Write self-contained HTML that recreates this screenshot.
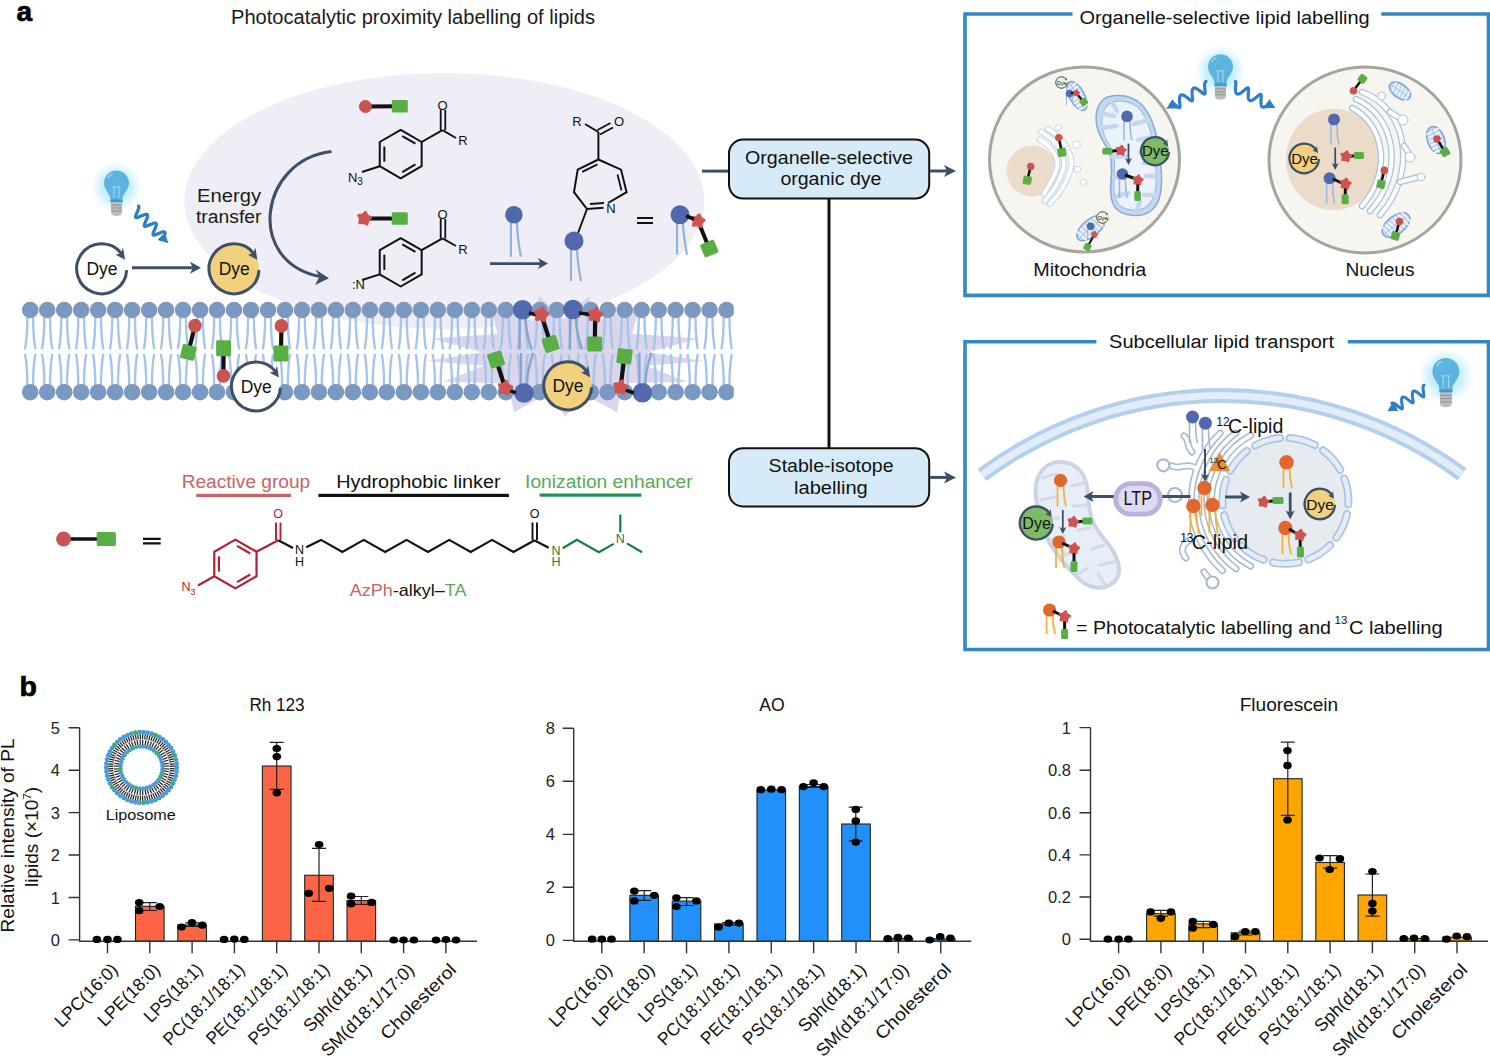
<!DOCTYPE html>
<html><head><meta charset="utf-8"><style>
html,body{margin:0;padding:0;background:#fff;overflow:hidden;}
svg{display:block;font-family:"Liberation Sans", sans-serif;}
</style></head><body>
<svg width="1490" height="1056" viewBox="0 0 1490 1056">
<defs><radialGradient id="glow"><stop offset="0" stop-color="#9FE3F8" stop-opacity="1"/><stop offset="0.55" stop-color="#C5EEFB" stop-opacity="0.9"/><stop offset="1" stop-color="#E6F8FE" stop-opacity="0"/></radialGradient><clipPath id="memclip"><rect x="21" y="290" width="712.8" height="120"/></clipPath></defs>
<rect width="1490" height="1056" fill="#fff"/>
<text x="16.6" y="20.6" font-size="28" fill="#000" text-anchor="start" font-weight="bold" stroke="#000" stroke-width="0.7">a</text>
<text x="231" y="23.5" font-size="19.5" fill="#1a1a1a" text-anchor="start" textLength="364" lengthAdjust="spacingAndGlyphs" >Photocatalytic proximity labelling of lipids</text>
<ellipse cx="444.4" cy="201" rx="260" ry="128" fill="#EFEEF7"/>
<g transform="translate(116.5,183) scale(1.0)"><circle cx="0" cy="4" r="27" fill="url(#glow)"/><path d="M-6,19 L-6,16 C-6,11 -12.5,7 -12.5,0 A12.5,12.5 0 1 1 12.5,0 C12.5,7 6,11 6,16 L6,19 Z" fill="#5DB5DF"/><path d="M-8.5,-5 A9,9 0 0 1 -4,-9.5" stroke="#A9DDF2" stroke-width="1.2" fill="none"/><path d="M-4,4 L4,4 M-2.5,4 L-2.5,15 M2.5,4 L2.5,15" stroke="#B5E2F4" stroke-width="0.8" fill="none"/><rect x="-6" y="16.5" width="12" height="3" fill="#3E9CCB"/><path d="M-5.5,19.5 L5.5,19.5 L5.5,29 Q5.5,33 0,33 Q-5.5,33 -5.5,29 Z" fill="#BDBDBD"/><path d="M-5.5,22 L5.5,22 M-5.5,25 L5.5,25 M-5.5,28 L5.5,28" stroke="#8E8E8E" stroke-width="0.9"/></g>
<path d="M138.54,205.96 L138.7,206.18 L138.81,206.46 L138.86,206.79 L138.86,207.17 L138.81,207.59 L138.72,208.06 L138.58,208.57 L138.41,209.12 L138.2,209.69 L137.97,210.28 L137.72,210.89 L137.45,211.51 L137.18,212.13 L136.92,212.74 L136.66,213.34 L136.41,213.92 L136.19,214.48 L135.99,215 L135.83,215.49 L135.71,215.93 L135.63,216.33 L135.6,216.68 L135.62,216.97 L135.7,217.21 L135.83,217.4 L136.01,217.53 L136.25,217.6 L136.55,217.62 L136.89,217.59 L137.29,217.51 L137.74,217.39 L138.22,217.23 L138.74,217.03 L139.3,216.81 L139.88,216.57 L140.48,216.31 L141.09,216.04 L141.71,215.77 L142.33,215.5 L142.94,215.25 L143.53,215.02 L144.1,214.81 L144.65,214.64 L145.16,214.5 L145.63,214.41 L146.06,214.36 L146.43,214.36 L146.76,214.41 L147.04,214.52 L147.26,214.69 L147.42,214.91 L147.53,215.18 L147.58,215.51 L147.58,215.89 L147.54,216.31 L147.44,216.79 L147.3,217.3 L147.13,217.84 L146.92,218.41 L146.69,219.01 L146.44,219.61 L146.18,220.23 L145.91,220.85 L145.64,221.46 L145.38,222.06 L145.13,222.64 L144.91,223.2 L144.71,223.72 L144.55,224.21 L144.43,224.65 L144.35,225.05 L144.32,225.4 L144.34,225.69 L144.42,225.93 L144.55,226.12 L144.73,226.25 L144.97,226.32 L145.27,226.34 L145.61,226.31 L146.01,226.23 L146.46,226.11 L146.94,225.95 L147.47,225.75 L148.02,225.53 L148.6,225.29 L149.2,225.03 L149.81,224.76 L150.43,224.49 L151.05,224.23 L151.66,223.97 L152.25,223.74 L152.82,223.54 L153.37,223.36 L153.88,223.22 L154.35,223.13 L154.78,223.08 L155.16,223.08 L155.48,223.14 L155.76,223.24 L155.98,223.41 L156.14,223.63 L156.25,223.9 L156.3,224.23 L156.31,224.61 L156.26,225.04 L156.16,225.51 L156.02,226.02 L155.85,226.56 L155.64,227.13 L155.41,227.73 L155.16,228.34 L154.9,228.95 L154.63,229.57 L154.36,230.18 L154.1,230.78 L153.85,231.36 L153.63,231.92 L153.44,232.44 L153.27,232.93 L153.15,233.37 L153.07,233.77 L153.04,234.12 L153.06,234.41 L153.14,234.65 L153.27,234.84 L153.45,234.97 L153.69,235.04 L153.99,235.06 L154.34,235.03 L154.73,234.95 L155.18,234.83 L155.66,234.67 L156.19,234.48 L156.74,234.25 L157.32,234.01 L157.92,233.75 L158.54,233.48 L159.15,233.21 L159.77,232.95 L160.38,232.7 L160.97,232.46 L161.55,232.26 L162.09,232.08 L162.6,231.95 L163.07,231.85 L163.5,231.8 L163.88,231.8 L164.21,231.86 L164.48,231.97 L164.7,232.13 L164.86,232.35 L164.97,232.62 L165.03,232.95 L165.03,233.33 L164.98,233.76 L164.88,234.23 L164.75,234.74 L164.57,235.28 L164.37,235.85 L164.13,236.45" stroke="#2F7EC7" stroke-width="3.3" fill="none" stroke-linecap="round" stroke-linejoin="round"/>
<path d="M164.13,236.45 L161.64,236.14 L168,242.5 L158.14,239.64 L162.34,235.44 Z" fill="#2F7EC7" stroke="#2F7EC7" stroke-width="1"/>
<path d="M168,242.5 L158.14,239.64 L165.14,232.64 Z" fill="#2F7EC7"/>
<circle cx="101.7" cy="268.8" r="25" fill="#fff"/>
<path d="M126.67,270.11 A25,25 0 1 1 121.45,253.48" stroke="#3F4F66" stroke-width="3" fill="none"/>
<path d="M125.04,259.84 L123.11,247.39 L121.13,253.07 L115.65,254.85 Z" fill="#3F4F66"/>
<text x="102" y="275.1" font-size="17.5" fill="#111" text-anchor="middle" >Dye</text>
<line x1="132" y1="267.7" x2="194.4" y2="267.7" stroke="#3F4F66" stroke-width="3"/>
<path d="M201,267.7 L190,273.7 L192.75,267.7 L190,261.7 Z" fill="#3F4F66"/>
<circle cx="234" cy="268.8" r="25" fill="#F2D17C"/>
<path d="M258.97,270.11 A25,25 0 1 1 253.75,253.48" stroke="#3F4F66" stroke-width="3" fill="none"/>
<path d="M257.34,259.84 L255.41,247.39 L253.43,253.07 L247.95,254.85 Z" fill="#3F4F66"/>
<text x="234.3" y="275.1" font-size="17.5" fill="#111" text-anchor="middle" >Dye</text>
<text x="197" y="201.7" font-size="17.5" fill="#1a1a1a" text-anchor="start" textLength="64" lengthAdjust="spacingAndGlyphs" >Energy</text>
<text x="196" y="222.6" font-size="17.5" fill="#1a1a1a" text-anchor="start" textLength="65.5" lengthAdjust="spacingAndGlyphs" >transfer</text>
<path d="M331.5,151.6 C259,160 245,262 320,276.5" stroke="#3F4F66" stroke-width="3" fill="none"/>
<path d="M329,278.3 L315.5,269.5 L319.5,276.8 L315,285 Z" fill="#3F4F66"/>
<line x1="365.4" y1="106.5" x2="399.8" y2="106.3" stroke="#111" stroke-width="4"/>
<rect x="-8" y="-6.25" width="16" height="12.5" rx="1.5" fill="#5AAE46" transform="translate(399.8,106.3) rotate(0)"/>
<circle cx="365.4" cy="106.5" r="6.5" fill="#C9534F"/>
<path d="M400.7,129.9 L421.66,142 L421.66,166.2 L400.7,178.3 L379.74,166.2 L379.74,142 Z" stroke="#111" stroke-width="2" fill="none" stroke-linejoin="round"/>
<line x1="402.29" y1="136.14" x2="415.45" y2="143.74" stroke="#111" stroke-width="2"/>
<line x1="415.45" y1="164.46" x2="402.29" y2="172.06" stroke="#111" stroke-width="2"/>
<line x1="384.35" y1="161.7" x2="384.35" y2="146.5" stroke="#111" stroke-width="2"/>
<path d="M421.66,142 L442.5,130.2" stroke="#111" stroke-width="2" fill="none" stroke-linejoin="miter" />
<path d="M440.7,130 L440.7,110 M445.3,130 L445.3,110" stroke="#111" stroke-width="1.8"/>
<path d="M442.5,130.2 L456,138" stroke="#111" stroke-width="2" fill="none" stroke-linejoin="miter" />
<text x="442.5" y="109.5" font-size="13" fill="#111" text-anchor="middle" >O</text>
<text x="463" y="145" font-size="13" fill="#111" text-anchor="middle" >R</text>
<path d="M379.74,166.2 L362,172" stroke="#111" stroke-width="2" fill="none" stroke-linejoin="miter" />
<text x="348" y="181.5" font-size="13" fill="#111" text-anchor="start" >N</text>
<text x="357.3" y="184.5" font-size="10" fill="#111" text-anchor="start" >3</text>
<line x1="364.3" y1="218.5" x2="399.8" y2="218.5" stroke="#111" stroke-width="4"/>
<rect x="-8" y="-6.25" width="16" height="12.5" rx="1.5" fill="#5AAE46" transform="translate(399.8,218.5) rotate(0)"/>
<polygon points="365.43,212.12 367.19,215.71 370.72,217.6 367.85,220.39 367.14,224.32 363.6,222.46 359.64,223 360.32,219.06 358.58,215.46 362.54,214.89" fill="#CF5350" stroke="#CF5350" stroke-width="2.72" stroke-linejoin="round"/>
<path d="M400.7,238.1 L421.66,250.2 L421.66,274.4 L400.7,286.5 L379.74,274.4 L379.74,250.2 Z" stroke="#111" stroke-width="2" fill="none" stroke-linejoin="round"/>
<line x1="402.29" y1="244.34" x2="415.45" y2="251.94" stroke="#111" stroke-width="2"/>
<line x1="415.45" y1="272.66" x2="402.29" y2="280.26" stroke="#111" stroke-width="2"/>
<line x1="384.35" y1="269.9" x2="384.35" y2="254.7" stroke="#111" stroke-width="2"/>
<path d="M421.66,250.2 L442.5,238.4" stroke="#111" stroke-width="2" fill="none" stroke-linejoin="miter" />
<path d="M440.7,238.4 L440.7,219 M445.3,238.4 L445.3,219" stroke="#111" stroke-width="1.8"/>
<path d="M442.5,238.4 L456,246" stroke="#111" stroke-width="2" fill="none" stroke-linejoin="miter" />
<text x="442.5" y="218.5" font-size="13" fill="#111" text-anchor="middle" >O</text>
<text x="463" y="253.5" font-size="13" fill="#111" text-anchor="middle" >R</text>
<path d="M379.74,274.4 L362,280" stroke="#111" stroke-width="2" fill="none" stroke-linejoin="miter" />
<text x="352" y="289" font-size="13" fill="#111" text-anchor="start" >:N</text>
<line x1="490" y1="263.6" x2="542" y2="263.6" stroke="#3F4F66" stroke-width="2.8"/>
<path d="M548,263.6 L538,269.1 L540.5,263.6 L538,258.1 Z" fill="#3F4F66"/>
<path d="M510.9,219.98 L510.9,256.7 M516.9,219.98 C516.9,235.7 518.9,244.1 520.9,256.7" stroke="#93B3DD" stroke-width="2.2" fill="none"/>
<circle cx="513.9" cy="214.7" r="8.8" fill="#4F68AE"/>
<path d="M598.4,159.5 L621,169.6 L626.6,192.2 L608,203" stroke="#111" stroke-width="2" fill="none" stroke-linejoin="miter" />
<path d="M603.5,207.7 L587,209 L574,192.2 L577.7,169.6 L598.4,159.5" stroke="#111" stroke-width="2" fill="none" stroke-linejoin="miter" />
<path d="M582.2,171.9 L597.5,164.4 M617.5,174.5 L621.5,190.5 M590,204 L604,203" stroke="#111" stroke-width="1.8"/>
<text x="611" y="212.5" font-size="13" fill="#111" text-anchor="middle" >N</text>
<path d="M598.4,159.5 L598.4,132" stroke="#111" stroke-width="2" fill="none" stroke-linejoin="miter" />
<path d="M597.5,130 L610.5,123 M600,134.5 L613,127.5" stroke="#111" stroke-width="1.8"/>
<path d="M598.4,132 L585,124" stroke="#111" stroke-width="2" fill="none" stroke-linejoin="miter" />
<text x="577" y="126" font-size="13" fill="#111" text-anchor="middle" >R</text>
<text x="619" y="125.5" font-size="13" fill="#111" text-anchor="middle" >O</text>
<path d="M587,209 L578,233" stroke="#111" stroke-width="2" fill="none" stroke-linejoin="miter" />
<path d="M571,246.7 L571,281 M577,246.7 C577,261 579,269 581,281" stroke="#93B3DD" stroke-width="2.2" fill="none"/>
<circle cx="574" cy="241" r="9.5" fill="#4F68AE"/>
<path d="M637,218 L653,218 M637,223 L653,223" stroke="#111" stroke-width="2"/>
<path d="M677,220.4 L677,254.7 M683,220.4 C683,234.7 685,242.7 687,254.7" stroke="#93B3DD" stroke-width="2.2" fill="none"/>
<circle cx="680" cy="214.7" r="9.5" fill="#4F68AE"/>
<line x1="698" y1="221" x2="709.3" y2="248.6" stroke="#111" stroke-width="4"/>
<rect x="-7.5" y="-7" width="15" height="14" rx="1.5" fill="#5AAE46" transform="translate(709.3,248.6) rotate(-22.27)"/>
<polygon points="699.13,214.62 700.89,218.21 704.42,220.1 701.55,222.89 700.84,226.82 697.3,224.96 693.34,225.5 694.02,221.56 692.28,217.96 696.24,217.39" fill="#CF5350" stroke="#CF5350" stroke-width="2.72" stroke-linejoin="round"/>
<line x1="686" y1="216" x2="694" y2="219" stroke="#111" stroke-width="3.5"/>
<path d="M432,338.5 L497.68,333.75 L490,305 L533.58,321.5 L539,296 L564.4,318.8 L589,296 L595.87,321.4 L640,305 L632.37,333.78 L699,338.5 L648.56,352.19 L703.5,361 L646.09,365.71 L687.5,382 L622.57,383.09 L617,412.6 L581.28,392.49 L565.5,417 L549.3,392.54 L514,412.6 L507.68,383.19 L443,382 L483.93,365.75 L427,361 L481.45,352.15 Z" fill="#D6D3EA" opacity="0.9"/>
<g clip-path="url(#memclip)">
<path d="M27.4,316 Q27.2,338 25,349.2 M27.4,386 Q27.2,364 25,354 M33,316 Q33.2,338 35.4,349.2 M33,386 Q33.2,364 35.4,354 M44.39,316 Q44.19,338 41.98,349.2 M44.39,386 Q44.19,364 41.98,354 M49.98,316 Q50.19,338 52.39,349.2 M49.98,386 Q50.19,364 52.39,354 M61.37,316 Q61.17,338 58.97,349.2 M61.37,386 Q61.17,364 58.97,354 M66.97,316 Q67.17,338 69.37,349.2 M66.97,386 Q67.17,364 69.37,354 M78.36,316 Q78.16,338 75.95,349.2 M78.36,386 Q78.16,364 75.95,354 M83.95,316 Q84.16,338 86.36,349.2 M83.95,386 Q84.16,364 86.36,354 M95.34,316 Q95.14,338 92.94,349.2 M95.34,386 Q95.14,364 92.94,354 M100.94,316 Q101.14,338 103.34,349.2 M100.94,386 Q101.14,364 103.34,354 M112.33,316 Q112.12,338 109.92,349.2 M112.33,386 Q112.12,364 109.92,354 M117.92,316 Q118.12,338 120.33,349.2 M117.92,386 Q118.12,364 120.33,354 M129.31,316 Q129.11,338 126.91,349.2 M129.31,386 Q129.11,364 126.91,354 M134.91,316 Q135.11,338 137.31,349.2 M134.91,386 Q135.11,364 137.31,354 M146.29,316 Q146.09,338 143.9,349.2 M146.29,386 Q146.09,364 143.9,354 M151.9,316 Q152.09,338 154.29,349.2 M151.9,386 Q152.09,364 154.29,354 M163.28,316 Q163.08,338 160.88,349.2 M163.28,386 Q163.08,364 160.88,354 M168.88,316 Q169.08,338 171.28,349.2 M168.88,386 Q169.08,364 171.28,354 M180.26,316 Q180.06,338 177.87,349.2 M180.26,386 Q180.06,364 177.87,354 M185.87,316 Q186.06,338 188.26,349.2 M185.87,386 Q186.06,364 188.26,354 M197.25,316 Q197.05,338 194.85,349.2 M197.25,386 Q197.05,364 194.85,354 M202.85,316 Q203.05,338 205.25,349.2 M202.85,386 Q203.05,364 205.25,354 M214.23,316 Q214.03,338 211.83,349.2 M214.23,386 Q214.03,364 211.83,354 M219.83,316 Q220.03,338 222.23,349.2 M219.83,386 Q220.03,364 222.23,354 M231.22,316 Q231.02,338 228.82,349.2 M231.22,386 Q231.02,364 228.82,354 M236.82,316 Q237.02,338 239.22,349.2 M236.82,386 Q237.02,364 239.22,354 M248.2,316 Q248,338 245.81,349.2 M248.2,386 Q248,364 245.81,354 M253.81,316 Q254,338 256.2,349.2 M253.81,386 Q254,364 256.2,354 M265.19,316 Q264.99,338 262.79,349.2 M265.19,386 Q264.99,364 262.79,354 M270.79,316 Q270.99,338 273.19,349.2 M270.79,386 Q270.99,364 273.19,354 M282.17,316 Q281.97,338 279.77,349.2 M282.17,386 Q281.97,364 279.77,354 M287.77,316 Q287.97,338 290.17,349.2 M287.77,386 Q287.97,364 290.17,354 M299.16,316 Q298.96,338 296.76,349.2 M299.16,386 Q298.96,364 296.76,354 M304.76,316 Q304.96,338 307.16,349.2 M304.76,386 Q304.96,364 307.16,354 M316.14,316 Q315.94,338 313.75,349.2 M316.14,386 Q315.94,364 313.75,354 M321.75,316 Q321.94,338 324.14,349.2 M321.75,386 Q321.94,364 324.14,354 M333.13,316 Q332.93,338 330.73,349.2 M333.13,386 Q332.93,364 330.73,354 M338.73,316 Q338.93,338 341.13,349.2 M338.73,386 Q338.93,364 341.13,354 M350.11,316 Q349.91,338 347.71,349.2 M350.11,386 Q349.91,364 347.71,354 M355.71,316 Q355.91,338 358.11,349.2 M355.71,386 Q355.91,364 358.11,354 M367.1,316 Q366.9,338 364.7,349.2 M367.1,386 Q366.9,364 364.7,354 M372.7,316 Q372.9,338 375.1,349.2 M372.7,386 Q372.9,364 375.1,354 M384.08,316 Q383.88,338 381.69,349.2 M384.08,386 Q383.88,364 381.69,354 M389.69,316 Q389.88,338 392.08,349.2 M389.69,386 Q389.88,364 392.08,354 M401.07,316 Q400.87,338 398.67,349.2 M401.07,386 Q400.87,364 398.67,354 M406.67,316 Q406.87,338 409.07,349.2 M406.67,386 Q406.87,364 409.07,354 M418.05,316 Q417.85,338 415.65,349.2 M418.05,386 Q417.85,364 415.65,354 M423.65,316 Q423.85,338 426.05,349.2 M423.65,386 Q423.85,364 426.05,354 M435.04,316 Q434.84,338 432.64,349.2 M435.04,386 Q434.84,364 432.64,354 M440.64,316 Q440.84,338 443.04,349.2 M440.64,386 Q440.84,364 443.04,354 M452.02,316 Q451.82,338 449.62,349.2 M452.02,386 Q451.82,364 449.62,354 M457.62,316 Q457.82,338 460.02,349.2 M457.62,386 Q457.82,364 460.02,354 M469.01,316 Q468.81,338 466.61,349.2 M469.01,386 Q468.81,364 466.61,354 M474.61,316 Q474.81,338 477.01,349.2 M474.61,386 Q474.81,364 477.01,354 M485.99,316 Q485.79,338 483.59,349.2 M485.99,386 Q485.79,364 483.59,354 M491.59,316 Q491.79,338 493.99,349.2 M491.59,386 Q491.79,364 493.99,354 M502.98,316 Q502.78,338 500.58,349.2 M502.98,386 Q502.78,364 500.58,354 M508.58,316 Q508.78,338 510.98,349.2 M508.58,386 Q508.78,364 510.98,354 M519.97,316 Q519.76,338 517.56,349.2 M519.97,386 Q519.76,364 517.56,354 M525.56,316 Q525.76,338 527.97,349.2 M525.56,386 Q525.76,364 527.97,354 M536.95,316 Q536.75,338 534.55,349.2 M536.95,386 Q536.75,364 534.55,354 M542.55,316 Q542.75,338 544.95,349.2 M542.55,386 Q542.75,364 544.95,354 M553.94,316 Q553.74,338 551.53,349.2 M553.94,386 Q553.74,364 551.53,354 M559.53,316 Q559.74,338 561.94,349.2 M559.53,386 Q559.74,364 561.94,354 M570.92,316 Q570.72,338 568.52,349.2 M570.92,386 Q570.72,364 568.52,354 M576.52,316 Q576.72,338 578.92,349.2 M576.52,386 Q576.72,364 578.92,354 M587.91,316 Q587.71,338 585.5,349.2 M587.91,386 Q587.71,364 585.5,354 M593.5,316 Q593.71,338 595.91,349.2 M593.5,386 Q593.71,364 595.91,354 M604.89,316 Q604.69,338 602.49,349.2 M604.89,386 Q604.69,364 602.49,354 M610.49,316 Q610.69,338 612.89,349.2 M610.49,386 Q610.69,364 612.89,354 M621.88,316 Q621.68,338 619.48,349.2 M621.88,386 Q621.68,364 619.48,354 M627.48,316 Q627.68,338 629.88,349.2 M627.48,386 Q627.68,364 629.88,354 M638.86,316 Q638.66,338 636.46,349.2 M638.86,386 Q638.66,364 636.46,354 M644.46,316 Q644.66,338 646.86,349.2 M644.46,386 Q644.66,364 646.86,354 M655.85,316 Q655.64,338 653.44,349.2 M655.85,386 Q655.64,364 653.44,354 M661.44,316 Q661.64,338 663.85,349.2 M661.44,386 Q661.64,364 663.85,354 M672.83,316 Q672.63,338 670.43,349.2 M672.83,386 Q672.63,364 670.43,354 M678.43,316 Q678.63,338 680.83,349.2 M678.43,386 Q678.63,364 680.83,354 M689.82,316 Q689.62,338 687.41,349.2 M689.82,386 Q689.62,364 687.41,354 M695.41,316 Q695.62,338 697.82,349.2 M695.41,386 Q695.62,364 697.82,354 M706.8,316 Q706.6,338 704.4,349.2 M706.8,386 Q706.6,364 704.4,354 M712.4,316 Q712.6,338 714.8,349.2 M712.4,386 Q712.6,364 714.8,354 M723.79,316 Q723.59,338 721.38,349.2 M723.79,386 Q723.59,364 721.38,354 M729.38,316 Q729.59,338 731.79,349.2 M729.38,386 Q729.59,364 731.79,354" stroke="#A7C4E9" stroke-width="2.4" fill="none"/>
<g fill="#7A98C0"><circle cx="30.2" cy="310" r="8.3"/><circle cx="30.2" cy="392.2" r="8.3"/><circle cx="47.19" cy="310" r="8.3"/><circle cx="47.19" cy="392.2" r="8.3"/><circle cx="64.17" cy="310" r="8.3"/><circle cx="64.17" cy="392.2" r="8.3"/><circle cx="81.16" cy="310" r="8.3"/><circle cx="81.16" cy="392.2" r="8.3"/><circle cx="98.14" cy="310" r="8.3"/><circle cx="98.14" cy="392.2" r="8.3"/><circle cx="115.12" cy="310" r="8.3"/><circle cx="115.12" cy="392.2" r="8.3"/><circle cx="132.11" cy="310" r="8.3"/><circle cx="132.11" cy="392.2" r="8.3"/><circle cx="149.09" cy="310" r="8.3"/><circle cx="149.09" cy="392.2" r="8.3"/><circle cx="166.08" cy="310" r="8.3"/><circle cx="166.08" cy="392.2" r="8.3"/><circle cx="183.06" cy="310" r="8.3"/><circle cx="183.06" cy="392.2" r="8.3"/><circle cx="200.05" cy="310" r="8.3"/><circle cx="200.05" cy="392.2" r="8.3"/><circle cx="217.03" cy="310" r="8.3"/><circle cx="217.03" cy="392.2" r="8.3"/><circle cx="234.02" cy="310" r="8.3"/><circle cx="234.02" cy="392.2" r="8.3"/><circle cx="251" cy="310" r="8.3"/><circle cx="251" cy="392.2" r="8.3"/><circle cx="267.99" cy="310" r="8.3"/><circle cx="267.99" cy="392.2" r="8.3"/><circle cx="284.97" cy="310" r="8.3"/><circle cx="284.97" cy="392.2" r="8.3"/><circle cx="301.96" cy="310" r="8.3"/><circle cx="301.96" cy="392.2" r="8.3"/><circle cx="318.94" cy="310" r="8.3"/><circle cx="318.94" cy="392.2" r="8.3"/><circle cx="335.93" cy="310" r="8.3"/><circle cx="335.93" cy="392.2" r="8.3"/><circle cx="352.91" cy="310" r="8.3"/><circle cx="352.91" cy="392.2" r="8.3"/><circle cx="369.9" cy="310" r="8.3"/><circle cx="369.9" cy="392.2" r="8.3"/><circle cx="386.88" cy="310" r="8.3"/><circle cx="386.88" cy="392.2" r="8.3"/><circle cx="403.87" cy="310" r="8.3"/><circle cx="403.87" cy="392.2" r="8.3"/><circle cx="420.85" cy="310" r="8.3"/><circle cx="420.85" cy="392.2" r="8.3"/><circle cx="437.84" cy="310" r="8.3"/><circle cx="437.84" cy="392.2" r="8.3"/><circle cx="454.82" cy="310" r="8.3"/><circle cx="454.82" cy="392.2" r="8.3"/><circle cx="471.81" cy="310" r="8.3"/><circle cx="471.81" cy="392.2" r="8.3"/><circle cx="488.79" cy="310" r="8.3"/><circle cx="488.79" cy="392.2" r="8.3"/><circle cx="505.78" cy="310" r="8.3"/><circle cx="505.78" cy="392.2" r="8.3"/><circle cx="522.76" cy="310" r="8.3"/><circle cx="522.76" cy="392.2" r="8.3"/><circle cx="539.75" cy="310" r="8.3"/><circle cx="539.75" cy="392.2" r="8.3"/><circle cx="556.74" cy="310" r="8.3"/><circle cx="556.74" cy="392.2" r="8.3"/><circle cx="573.72" cy="310" r="8.3"/><circle cx="573.72" cy="392.2" r="8.3"/><circle cx="590.71" cy="310" r="8.3"/><circle cx="590.71" cy="392.2" r="8.3"/><circle cx="607.69" cy="310" r="8.3"/><circle cx="607.69" cy="392.2" r="8.3"/><circle cx="624.68" cy="310" r="8.3"/><circle cx="624.68" cy="392.2" r="8.3"/><circle cx="641.66" cy="310" r="8.3"/><circle cx="641.66" cy="392.2" r="8.3"/><circle cx="658.64" cy="310" r="8.3"/><circle cx="658.64" cy="392.2" r="8.3"/><circle cx="675.63" cy="310" r="8.3"/><circle cx="675.63" cy="392.2" r="8.3"/><circle cx="692.62" cy="310" r="8.3"/><circle cx="692.62" cy="392.2" r="8.3"/><circle cx="709.6" cy="310" r="8.3"/><circle cx="709.6" cy="392.2" r="8.3"/><circle cx="726.59" cy="310" r="8.3"/><circle cx="726.59" cy="392.2" r="8.3"/></g>
</g>
<path d="M519.6,317.8 L519.6,349.8 M525.6,317.8 C525.6,331.8 528.6,339.8 531.6,349.8" stroke="#8AA4CC" stroke-width="2.4" fill="none"/>
<circle cx="522.6" cy="309.8" r="9.8" fill="#5169AD"/>
<path d="M570,317.5 L570,349.5 M576,317.5 C576,331.5 579,339.5 582,349.5" stroke="#8AA4CC" stroke-width="2.4" fill="none"/>
<circle cx="573" cy="309.5" r="9.8" fill="#5169AD"/>
<path d="M521,385 L521,353 M527,385 C527,371 530,363 533,353" stroke="#8AA4CC" stroke-width="2.4" fill="none"/>
<circle cx="524" cy="393" r="9.8" fill="#5169AD"/>
<path d="M639.4,384.7 L639.4,352.7 M645.4,384.7 C645.4,370.7 648.4,362.7 651.4,352.7" stroke="#8AA4CC" stroke-width="2.4" fill="none"/>
<circle cx="642.4" cy="392.7" r="9.8" fill="#5169AD"/>
<line x1="195" y1="325.6" x2="188.4" y2="352.3" stroke="#111" stroke-width="4.2"/>
<rect x="-7.25" y="-7.25" width="14.5" height="14.5" rx="1.5" fill="#5AAE46" transform="translate(188.4,352.3) rotate(13.88)"/>
<circle cx="195" cy="325.6" r="6.8" fill="#C9534F"/>
<line x1="223.4" y1="375.9" x2="223.6" y2="348.3" stroke="#111" stroke-width="4.2"/>
<rect x="-7.5" y="-8" width="15" height="16" rx="1.5" fill="#5AAE46" transform="translate(223.6,348.3) rotate(0)"/>
<circle cx="223.4" cy="375.9" r="6.8" fill="#C9534F"/>
<line x1="281.4" y1="325.9" x2="281" y2="353.4" stroke="#111" stroke-width="4.2"/>
<rect x="-7.5" y="-8" width="15" height="16" rx="1.5" fill="#5AAE46" transform="translate(281,353.4) rotate(0)"/>
<circle cx="281.4" cy="325.9" r="6.8" fill="#C9534F"/>
<circle cx="256" cy="386.4" r="24.5" fill="#fff"/>
<path d="M280.47,387.68 A24.5,24.5 0 1 1 275.36,371.38" stroke="#3F4F66" stroke-width="3" fill="none"/>
<path d="M278.87,377.62 L276.99,365.41 L275.04,370.98 L269.66,372.74 Z" fill="#3F4F66"/>
<text x="256.3" y="392.7" font-size="17.5" fill="#111" text-anchor="middle" >Dye</text>
<path d="M529,313 L541,316 M579,313 L595,315 M506,389 L516,393 M620,388 L634,393" stroke="#111" stroke-width="3.5"/>
<line x1="541.4" y1="314.8" x2="550.7" y2="344" stroke="#111" stroke-width="4.2"/>
<rect x="-7.5" y="-7.5" width="15" height="15" rx="1.5" fill="#5AAE46" transform="translate(550.7,344) rotate(-17.67)"/>
<polygon points="542.58,308.1 544.43,311.87 548.14,313.85 545.12,316.78 544.38,320.92 540.67,318.95 536.51,319.53 537.22,315.39 535.39,311.61 539.55,311.01" fill="#CF5350" stroke="#CF5350" stroke-width="2.86" stroke-linejoin="round"/>
<line x1="595.4" y1="314.8" x2="594.7" y2="344" stroke="#111" stroke-width="4.2"/>
<rect x="-7.5" y="-7.5" width="15" height="15" rx="1.5" fill="#5AAE46" transform="translate(594.7,344) rotate(0)"/>
<polygon points="596.58,308.1 598.43,311.87 602.14,313.85 599.12,316.78 598.38,320.92 594.67,318.95 590.51,319.53 591.22,315.39 589.39,311.61 593.55,311.01" fill="#CF5350" stroke="#CF5350" stroke-width="2.86" stroke-linejoin="round"/>
<line x1="505.2" y1="388" x2="496" y2="359.5" stroke="#111" stroke-width="4.2"/>
<rect x="-7.5" y="-7.5" width="15" height="15" rx="1.5" fill="#5AAE46" transform="translate(496,359.5) rotate(-197.89)"/>
<polygon points="506.38,381.3 508.23,385.07 511.94,387.05 508.92,389.98 508.18,394.12 504.47,392.15 500.31,392.73 501.02,388.59 499.19,384.81 503.35,384.21" fill="#CF5350" stroke="#CF5350" stroke-width="2.86" stroke-linejoin="round"/>
<line x1="620.5" y1="387.4" x2="624.5" y2="356.2" stroke="#111" stroke-width="4.2"/>
<rect x="-7.5" y="-7.5" width="15" height="15" rx="1.5" fill="#5AAE46" transform="translate(624.5,356.2) rotate(-172.69)"/>
<polygon points="621.68,380.7 623.53,384.47 627.24,386.45 624.22,389.38 623.48,393.52 619.77,391.55 615.61,392.13 616.32,387.99 614.49,384.21 618.65,383.61" fill="#CF5350" stroke="#CF5350" stroke-width="2.86" stroke-linejoin="round"/>
<circle cx="567.7" cy="385.8" r="24" fill="#F2D17C"/>
<path d="M591.67,387.06 A24,24 0 1 1 586.66,371.09" stroke="#3F4F66" stroke-width="3" fill="none"/>
<path d="M590.11,377.2 L588.28,365.22 L586.35,370.7 L581.06,372.44 Z" fill="#3F4F66"/>
<text x="568" y="392.1" font-size="17.5" fill="#111" text-anchor="middle" >Dye</text>
<line x1="63.6" y1="539" x2="106.3" y2="539" stroke="#111" stroke-width="3.5"/>
<rect x="-9.6" y="-7" width="19.2" height="14" rx="1.5" fill="#5AAE46" transform="translate(106.3,539) rotate(0)"/>
<circle cx="63.6" cy="539" r="7.5" fill="#C9534F"/>
<path d="M143,538.9 L160.7,538.9 M143,543.4 L160.7,543.4" stroke="#111" stroke-width="2.2"/>
<text x="181.7" y="487.9" font-size="18" fill="#C66565" text-anchor="start" textLength="128.5" lengthAdjust="spacingAndGlyphs" >Reactive group</text>
<rect x="196.2" y="493.8" width="94.7" height="3.2" fill="#C66565"/>
<text x="336.2" y="488" font-size="18" fill="#111" text-anchor="start" textLength="164.5" lengthAdjust="spacingAndGlyphs" >Hydrophobic linker</text>
<rect x="318.4" y="493.8" width="190.5" height="3.2" fill="#111"/>
<text x="525.1" y="487.8" font-size="18" fill="#5DA957" text-anchor="start" textLength="167.6" lengthAdjust="spacingAndGlyphs" >Ionization enhancer</text>
<rect x="539.6" y="493.5" width="101.8" height="3.2" fill="#1F9350"/>
<path d="M235.4,539.6 L256.53,551.8 L256.53,576.2 L235.4,588.4 L214.27,576.2 L214.27,551.8 Z" stroke="#B21F36" stroke-width="2.2" fill="none" stroke-linejoin="round"/>
<line x1="237.01" y1="545.9" x2="250.28" y2="553.56" stroke="#B21F36" stroke-width="2.2"/>
<line x1="250.28" y1="574.44" x2="237.01" y2="582.1" stroke="#B21F36" stroke-width="2.2"/>
<line x1="218.92" y1="571.66" x2="218.92" y2="556.34" stroke="#B21F36" stroke-width="2.2"/>
<path d="M256.53,551.8 L278.2,540.3" stroke="#B21F36" stroke-width="2.2" fill="none" stroke-linejoin="miter" />
<path d="M276,540 L276,522.5 M280.5,540 L280.5,522.5" stroke="#B21F36" stroke-width="1.9"/>
<text x="278.2" y="518" font-size="12.5" fill="#B21F36" text-anchor="middle" >O</text>
<path d="M214.27,576.2 L198,585.5" stroke="#B21F36" stroke-width="2.2" fill="none" stroke-linejoin="miter" />
<text x="181.5" y="590.5" font-size="12.5" fill="#B21F36" text-anchor="start" >N</text>
<text x="190.3" y="594.5" font-size="9.5" fill="#B21F36" text-anchor="start" >3</text>
<path d="M278.2,540.3 L293,548" stroke="#111" stroke-width="2.2" fill="none" stroke-linejoin="miter" />
<text x="299.5" y="554.2" font-size="12.5" fill="#111" text-anchor="middle" >N</text>
<text x="299.5" y="565.5" font-size="12.5" fill="#111" text-anchor="middle" >H</text>
<path d="M306.2,547.2 L321,539.9 L342.38,552 L363.76,539.9 L385.14,552 L406.52,539.9 L427.9,552 L449.28,539.9 L470.66,552 L492.04,539.9 L513.42,552 L534.7,540.3" stroke="#111" stroke-width="2.2" fill="none" stroke-linejoin="miter" />
<path d="M532.5,540 L532.5,522.5 M537,540 L537,522.5" stroke="#111" stroke-width="1.9"/>
<text x="534.7" y="518" font-size="12.5" fill="#111" text-anchor="middle" >O</text>
<path d="M534.7,540.5 L548.7,547.8" stroke="#111" stroke-width="2.2" fill="none" stroke-linejoin="miter" />
<text x="556.1" y="554.5" font-size="12.5" fill="#1B7C40" text-anchor="middle" >N</text>
<text x="556.1" y="566" font-size="12.5" fill="#1B7C40" text-anchor="middle" >H</text>
<path d="M562.7,548.3 L576.8,539.7 L598.9,552.3 L613.7,543.9" stroke="#1B7C40" stroke-width="2.2" fill="none" stroke-linejoin="miter" />
<text x="620.3" y="542.5" font-size="12.5" fill="#1B7C40" text-anchor="middle" >N</text>
<path d="M620.3,514.6 L620.3,532.3" stroke="#1B7C40" stroke-width="2.2" fill="none" stroke-linejoin="miter" />
<path d="M627,543.4 L642,552.3" stroke="#1B7C40" stroke-width="2.2" fill="none" stroke-linejoin="miter" />
<text x="349.8" y="596" font-size="17" textLength="116.6" lengthAdjust="spacingAndGlyphs"><tspan fill="#C66565">AzPh</tspan><tspan fill="#111">-alkyl–</tspan><tspan fill="#5DA957">TA</tspan></text>
<line x1="702" y1="171.1" x2="729" y2="171.1" stroke="#3F4F66" stroke-width="3"/>
<line x1="829" y1="199" x2="829" y2="448" stroke="#111" stroke-width="3"/>
<rect x="729" y="139.6" width="200.2" height="59" rx="14" fill="#D6EBF7" stroke="#111" stroke-width="2"/>
<rect x="729" y="448.2" width="200.2" height="58.3" rx="14" fill="#D6EBF7" stroke="#111" stroke-width="2"/>
<text x="829" y="163.6" font-size="17.5" fill="#111" text-anchor="middle" textLength="168" lengthAdjust="spacingAndGlyphs" >Organelle-selective</text>
<text x="830.9" y="184.8" font-size="17.5" fill="#111" text-anchor="middle" textLength="101" lengthAdjust="spacingAndGlyphs" >organic dye</text>
<text x="831.1" y="471.7" font-size="17.5" fill="#111" text-anchor="middle" textLength="125" lengthAdjust="spacingAndGlyphs" >Stable-isotope</text>
<text x="830.9" y="493.5" font-size="17.5" fill="#111" text-anchor="middle" textLength="73.8" lengthAdjust="spacingAndGlyphs" >labelling</text>
<line x1="929.7" y1="171" x2="948.8" y2="171" stroke="#3F4F66" stroke-width="3"/>
<path d="M956,171 L944,177 L947,171 L944,165 Z" fill="#3F4F66"/>
<line x1="929.7" y1="477.4" x2="948.8" y2="477.4" stroke="#3F4F66" stroke-width="3"/>
<path d="M956,477.4 L944,483.4 L947,477.4 L944,471.4 Z" fill="#3F4F66"/>
<path d="M1072.5,14 L965,14 L965,295.4 L1488.5,295.4 L1488.5,14 L1381.3,14" stroke="#3287C8" stroke-width="3.6" fill="none"/>
<path d="M1096.4,341.7 L965,341.7 L965,649.5 L1488.5,649.5 L1488.5,341.7 L1347.8,341.7" stroke="#3287C8" stroke-width="3.6" fill="none"/>
<text x="1079.4" y="23.6" font-size="18" fill="#111" text-anchor="start" textLength="290.3" lengthAdjust="spacingAndGlyphs" >Organelle-selective lipid labelling</text>
<text x="1109.1" y="347.9" font-size="18" fill="#111" text-anchor="start" textLength="225" lengthAdjust="spacingAndGlyphs" >Subcellular lipid transport</text>
<text x="1033.2" y="276.2" font-size="18.5" fill="#111" text-anchor="start" textLength="113" lengthAdjust="spacingAndGlyphs" >Mitochondria</text>
<text x="1345.5" y="276.2" font-size="18.5" fill="#111" text-anchor="start" textLength="69" lengthAdjust="spacingAndGlyphs" >Nucleus</text>
<ellipse cx="1084.5" cy="159.5" rx="95" ry="92.5" fill="#F6F5EF" stroke="#A4A59C" stroke-width="3"/>
<circle cx="1032" cy="171" r="25.5" fill="#EADCC8"/>
<g fill="none" stroke-linecap="round"><path d="M1047.6,128.6 C1068,140 1074,160 1070.5,170 C1066,185 1058,196 1049.6,204.2" stroke="#C9D6E6" stroke-width="6"/><path d="M1047.6,128.6 C1068,140 1074,160 1070.5,170 C1066,185 1058,196 1049.6,204.2" stroke="#fff" stroke-width="3.8"/><path d="M1040.7,131.6 C1060,142 1066,158 1063.5,168 C1060,182 1052,192 1044.6,201.2" stroke="#C9D6E6" stroke-width="6"/><path d="M1040.7,131.6 C1060,142 1066,158 1063.5,168 C1060,182 1052,192 1044.6,201.2" stroke="#fff" stroke-width="3.8"/><path d="M1039.7,139.5 C1054,148 1059,160 1057,168 C1054,178 1049,186 1043.7,194.2" stroke="#C9D6E6" stroke-width="6"/><path d="M1039.7,139.5 C1054,148 1059,160 1057,168 C1054,178 1049,186 1043.7,194.2" stroke="#fff" stroke-width="3.8"/><circle cx="1058.6" cy="127.6" r="3" fill="#fff" stroke="#C9D6E6" stroke-width="1"/><circle cx="1076.5" cy="144.5" r="3.8" fill="#fff" stroke="#C9D6E6" stroke-width="1"/><circle cx="1077.5" cy="169.4" r="3.3" fill="#fff" stroke="#C9D6E6" stroke-width="1"/><circle cx="1083.4" cy="182.3" r="3.3" fill="#fff" stroke="#C9D6E6" stroke-width="1"/><circle cx="1068" cy="148" r="2.5" fill="#fff" stroke="#C9D6E6" stroke-width="1"/></g>
<line x1="1030.7" y1="166.4" x2="1027.3" y2="180.3" stroke="#111" stroke-width="2.5"/>
<rect x="-4.25" y="-4.25" width="8.5" height="8.5" rx="1.5" fill="#5AAE46" transform="translate(1027.3,180.3) rotate(10)"/>
<circle cx="1030.7" cy="166.4" r="3.7" fill="#C9534F"/>
<line x1="1058.8" y1="137.6" x2="1061.8" y2="152.4" stroke="#111" stroke-width="2.5"/>
<rect x="-4.25" y="-4.25" width="8.5" height="8.5" rx="1.5" fill="#5AAE46" transform="translate(1061.8,152.4) rotate(-8)"/>
<circle cx="1058.8" cy="137.6" r="3.7" fill="#C9534F"/>
<path d="M1116.7,95.6 C1128,95 1135,99 1140,103 C1148,110 1152,120 1155,130 C1159,145 1161,160 1161.5,177 C1162,192 1160,203 1152,210 C1146,215 1140,216 1134,215.5 C1125,215 1118,213 1114,206 C1110,198 1110,190 1111,180 C1112,170 1112,160 1109,152 C1105,143 1098,136 1096.5,124 C1095,112 1098,104 1104,99 C1108,96.5 1112,95.8 1116.7,95.6 Z" fill="#C5D7EE" stroke="#86AAD6" stroke-width="1.5"/>
<path d="M1116.7,95.6 C1128,95 1135,99 1140,103 C1148,110 1152,120 1155,130 C1159,145 1161,160 1161.5,177 C1162,192 1160,203 1152,210 C1146,215 1140,216 1134,215.5 C1125,215 1118,213 1114,206 C1110,198 1110,190 1111,180 C1112,170 1112,160 1109,152 C1105,143 1098,136 1096.5,124 C1095,112 1098,104 1104,99 C1108,96.5 1112,95.8 1116.7,95.6 Z" transform="translate(1130,155) scale(0.83,0.91) translate(-1130,-155)" fill="#EAF2FC" stroke="#97B6DE" stroke-width="1.1"/>
<path d="M1100,113 L1114,116 M1102,128 L1116,126 M1111,100 L1117,111 M1148,120 L1134,124 M1153,137 L1138,140 M1112,157 L1126,156 M1159,162 L1144,163 M1114,178 L1126,177 M1159,176 L1146,176 M1117,196 L1128,193 M1157,195 L1144,195 M1136,212 L1140,202 M1152,150 L1140,152" stroke="#C5D7EE" stroke-width="4.6" stroke-linecap="round"/>
<path d="M1124,119.88 L1124,140.4 M1130,119.88 C1130,128.4 1130,133.2 1132,140.4" stroke="#9DB9DF" stroke-width="1.6" fill="none"/>
<circle cx="1127" cy="116.4" r="5.8" fill="#4F68AE"/>
<line x1="1128.5" y1="143.6" x2="1128.5" y2="160.8" stroke="#3F4F66" stroke-width="1.8"/>
<path d="M1128.5,165 L1125,158 L1128.5,159.75 L1132,158 Z" fill="#3F4F66"/>
<line x1="1121" y1="150.5" x2="1107.3" y2="151.3" stroke="#111" stroke-width="3"/>
<rect x="-3.25" y="-5" width="6.5" height="10" rx="1.5" fill="#5AAE46" transform="translate(1107.3,151.3) rotate(90)"/>
<polygon points="1121.84,145.71 1123.17,148.41 1125.81,149.82 1123.66,151.91 1123.13,154.87 1120.48,153.47 1117.5,153.88 1118.02,150.92 1116.71,148.22 1119.68,147.79" fill="#CF5350" stroke="#CF5350" stroke-width="2.04" stroke-linejoin="round"/>
<path d="M1119.4,177.48 L1119.4,198 M1125.4,177.48 C1125.4,186 1125.4,190.8 1127.4,198" stroke="#9DB9DF" stroke-width="1.6" fill="none"/>
<circle cx="1122.4" cy="174" r="5.8" fill="#4F68AE"/>
<line x1="1125" y1="175" x2="1136" y2="179" stroke="#111" stroke-width="3"/>
<line x1="1137.9" y1="180" x2="1137.6" y2="196" stroke="#111" stroke-width="3"/>
<rect x="-3.25" y="-5" width="6.5" height="10" rx="1.5" fill="#5AAE46" transform="translate(1137.6,196) rotate(0)"/>
<polygon points="1138.74,175.21 1140.07,177.91 1142.71,179.32 1140.56,181.41 1140.03,184.37 1137.38,182.97 1134.4,183.38 1134.92,180.42 1133.61,177.72 1136.58,177.29" fill="#CF5350" stroke="#CF5350" stroke-width="2.04" stroke-linejoin="round"/>
<circle cx="1155" cy="151.2" r="14" fill="#7DBB6B"/>
<path d="M1168.98,151.93 A14,14 0 1 1 1166.06,142.62" stroke="#3F4F66" stroke-width="2.2" fill="none"/>
<path d="M1168.07,146.18 L1167.1,139.1 L1165.88,142.39 L1162.7,143.5 Z" fill="#3F4F66"/>
<text x="1155.3" y="156.4" font-size="15" fill="#111" text-anchor="middle" >Dye</text>
<g transform="translate(1077,96) rotate(62)"><ellipse rx="16" ry="7.5" fill="#C3D7F0" stroke="#7CA3D4" stroke-width="1.5"/><path d="M-12,-5 L-11,-0.8 M-10.5,5 L-11,0.8 M-8,-5 L-7,-0.8 M-6.5,5 L-7,0.8 M-4,-5 L-3,-0.8 M-2.5,5 L-3,0.8 M0,-5 L1,-0.8 M1.5,5 L1,0.8 M4,-5 L5,-0.8 M5.5,5 L5,0.8 M8,-5 L9,-0.8 M9.5,5 L9,0.8 M12,-5 L13,-0.8 M13.5,5 L13,0.8" stroke="#F4F8FD" stroke-width="1.7" stroke-linecap="round"/><path d="M-13,0 L13,0" stroke="#9DBBE2" stroke-width="0.8"/></g>
<circle cx="1061.5" cy="82.5" r="5.8" fill="#E8F3DF"/>
<path d="M1067.29,82.8 A5.8,5.8 0 1 1 1066.08,78.95" stroke="#3F4F66" stroke-width="1" fill="none"/>
<path d="M1066.91,80.42 L1066.53,77.47 L1066.01,78.85 L1064.67,79.33 Z" fill="#3F4F66"/>
<text x="1061.8" y="84.5" font-size="6" fill="#111" text-anchor="middle" textLength="9.4" lengthAdjust="spacingAndGlyphs" >Dye</text>
<path d="M1066.5,95.78 L1066.5,105.5 M1072.5,95.78 C1072.5,99.5 1071.5,101.9 1073.5,105.5" stroke="#9DB9DF" stroke-width="1" fill="none"/>
<circle cx="1069.5" cy="93.5" r="3.8" fill="#4F68AE"/>
<line x1="1071" y1="93" x2="1076" y2="93" stroke="#111" stroke-width="2"/>
<line x1="1076.2" y1="93" x2="1083.8" y2="102" stroke="#111" stroke-width="2"/>
<rect x="-3.5" y="-3.5" width="7" height="7" rx="1.5" fill="#5AAE46" transform="translate(1083.8,102) rotate(-40.18)"/>
<polygon points="1076.76,89.81 1077.65,91.6 1079.41,92.55 1077.97,93.94 1077.62,95.91 1075.85,94.98 1073.87,95.25 1074.21,93.28 1073.34,91.48 1075.32,91.19" fill="#CF5350" stroke="#CF5350" stroke-width="1.36" stroke-linejoin="round"/>
<g transform="translate(1091,228) rotate(-40)"><ellipse rx="17" ry="8.5" fill="#C3D7F0" stroke="#7CA3D4" stroke-width="1.5"/><path d="M-13,-6 L-12,-0.8 M-11.5,6 L-12,0.8 M-8.67,-6 L-7.67,-0.8 M-7.17,6 L-7.67,0.8 M-4.33,-6 L-3.33,-0.8 M-2.83,6 L-3.33,0.8 M0,-6 L1,-0.8 M1.5,6 L1,0.8 M4.33,-6 L5.33,-0.8 M5.83,6 L5.33,0.8 M8.67,-6 L9.67,-0.8 M10.17,6 L9.67,0.8 M13,-6 L14,-0.8 M14.5,6 L14,0.8" stroke="#F4F8FD" stroke-width="1.7" stroke-linecap="round"/><path d="M-14,0 L14,0" stroke="#9DBBE2" stroke-width="0.8"/></g>
<circle cx="1102.4" cy="217.5" r="5.8" fill="#E8F3DF"/>
<path d="M1108.19,217.8 A5.8,5.8 0 1 1 1106.98,213.95" stroke="#3F4F66" stroke-width="1" fill="none"/>
<path d="M1107.81,215.42 L1107.43,212.47 L1106.91,213.85 L1105.57,214.33 Z" fill="#3F4F66"/>
<text x="1102.7" y="219.5" font-size="6" fill="#111" text-anchor="middle" textLength="9.4" lengthAdjust="spacingAndGlyphs" >Dye</text>
<path d="M1087.6,228.48 L1087.6,238.2 M1093.6,228.48 C1093.6,232.2 1092.6,234.6 1094.6,238.2" stroke="#9DB9DF" stroke-width="1" fill="none"/>
<circle cx="1090.6" cy="226.2" r="3.8" fill="#4F68AE"/>
<line x1="1094.4" y1="234.5" x2="1087.4" y2="247" stroke="#111" stroke-width="2"/>
<rect x="-3.5" y="-3.5" width="7" height="7" rx="1.5" fill="#5AAE46" transform="translate(1087.4,247) rotate(29.25)"/>
<polygon points="1094.96,231.31 1095.85,233.1 1097.61,234.05 1096.17,235.44 1095.82,237.41 1094.05,236.48 1092.07,236.75 1092.41,234.78 1091.54,232.98 1093.52,232.69" fill="#CF5350" stroke="#CF5350" stroke-width="1.36" stroke-linejoin="round"/>
<ellipse cx="1365" cy="160" rx="96" ry="93" fill="#F6F5EF" stroke="#A4A59C" stroke-width="3"/>
<ellipse cx="1333.6" cy="159.4" rx="47.7" ry="50.7" fill="#EADCC8"/>
<g fill="none" stroke-linecap="round"><path d="M1352,108 C1385,125 1392,172 1362,206" stroke="#A9C2DF" stroke-width="6.5"/><path d="M1352,108 C1385,125 1392,172 1362,206" stroke="#fff" stroke-width="4"/><path d="M1356,99 C1397,117 1404,174 1370,211" stroke="#A9C2DF" stroke-width="6.5"/><path d="M1356,99 C1397,117 1404,174 1370,211" stroke="#fff" stroke-width="4"/><path d="M1362,92 C1409,109 1417,174 1380,215" stroke="#A9C2DF" stroke-width="6.5"/><path d="M1362,92 C1409,109 1417,174 1380,215" stroke="#fff" stroke-width="4"/><path d="M1390,112 L1401,119" stroke="#A9C2DF" stroke-width="6.5"/><path d="M1390,112 L1401,119" stroke="#fff" stroke-width="4"/><path d="M1404,146 L1410,155" stroke="#A9C2DF" stroke-width="6.5"/><path d="M1404,146 L1410,155" stroke="#fff" stroke-width="4"/><path d="M1400,182 L1419,177" stroke="#A9C2DF" stroke-width="6.5"/><path d="M1400,182 L1419,177" stroke="#fff" stroke-width="4"/><circle cx="1381.5" cy="96" r="4" fill="#fff" stroke="#A9C2DF" stroke-width="1"/><circle cx="1403" cy="120" r="5" fill="#fff" stroke="#A9C2DF" stroke-width="1"/><circle cx="1410" cy="157" r="5" fill="#fff" stroke="#A9C2DF" stroke-width="1"/><circle cx="1421" cy="177" r="4" fill="#fff" stroke="#A9C2DF" stroke-width="1"/></g>
<g transform="translate(1400,91) rotate(35)"><ellipse rx="12" ry="7" fill="#C3D7F0" stroke="#7CA3D4" stroke-width="1.5"/><path d="M-8,-4.5 L-7,-0.8 M-6.5,4.5 L-7,0.8 M-4,-4.5 L-3,-0.8 M-2.5,4.5 L-3,0.8 M0,-4.5 L1,-0.8 M1.5,4.5 L1,0.8 M4,-4.5 L5,-0.8 M5.5,4.5 L5,0.8 M8,-4.5 L9,-0.8 M9.5,4.5 L9,0.8" stroke="#F4F8FD" stroke-width="1.7" stroke-linecap="round"/><path d="M-9,0 L9,0" stroke="#9DBBE2" stroke-width="0.8"/></g>
<g transform="translate(1436,140) rotate(70)"><ellipse rx="14" ry="8.5" fill="#C3D7F0" stroke="#7CA3D4" stroke-width="1.5"/><path d="M-10,-6 L-9,-0.8 M-8.5,6 L-9,0.8 M-6,-6 L-5,-0.8 M-4.5,6 L-5,0.8 M-2,-6 L-1,-0.8 M-0.5,6 L-1,0.8 M2,-6 L3,-0.8 M3.5,6 L3,0.8 M6,-6 L7,-0.8 M7.5,6 L7,0.8 M10,-6 L11,-0.8 M11.5,6 L11,0.8" stroke="#F4F8FD" stroke-width="1.7" stroke-linecap="round"/><path d="M-11,0 L11,0" stroke="#9DBBE2" stroke-width="0.8"/></g>
<g transform="translate(1396,225) rotate(-38)"><ellipse rx="16" ry="9" fill="#C3D7F0" stroke="#7CA3D4" stroke-width="1.5"/><path d="M-12,-6.5 L-11,-0.8 M-10.5,6.5 L-11,0.8 M-8,-6.5 L-7,-0.8 M-6.5,6.5 L-7,0.8 M-4,-6.5 L-3,-0.8 M-2.5,6.5 L-3,0.8 M0,-6.5 L1,-0.8 M1.5,6.5 L1,0.8 M4,-6.5 L5,-0.8 M5.5,6.5 L5,0.8 M8,-6.5 L9,-0.8 M9.5,6.5 L9,0.8 M12,-6.5 L13,-0.8 M13.5,6.5 L13,0.8" stroke="#F4F8FD" stroke-width="1.7" stroke-linecap="round"/><path d="M-13,0 L13,0" stroke="#9DBBE2" stroke-width="0.8"/></g>
<line x1="1353.5" y1="90.8" x2="1362.4" y2="78.8" stroke="#111" stroke-width="2.5"/>
<rect x="-4" y="-4" width="8" height="8" rx="1.5" fill="#5AAE46" transform="translate(1362.4,78.8) rotate(-143.44)"/>
<circle cx="1353.5" cy="90.8" r="3.8" fill="#C9534F"/>
<line x1="1384.3" y1="170.4" x2="1381" y2="184.3" stroke="#111" stroke-width="2.5"/>
<rect x="-4.25" y="-4.25" width="8.5" height="8.5" rx="1.5" fill="#5AAE46" transform="translate(1381,184.3) rotate(13.36)"/>
<circle cx="1384.3" cy="170.4" r="3.8" fill="#C9534F"/>
<line x1="1437" y1="139" x2="1445" y2="152" stroke="#111" stroke-width="2.5"/>
<rect x="-4.25" y="-4.25" width="8.5" height="8.5" rx="1.5" fill="#5AAE46" transform="translate(1445,152) rotate(-31.61)"/>
<circle cx="1437" cy="139" r="3.8" fill="#C9534F"/>
<line x1="1399.5" y1="221.5" x2="1395.3" y2="236" stroke="#111" stroke-width="2.5"/>
<rect x="-4.25" y="-4.25" width="8.5" height="8.5" rx="1.5" fill="#5AAE46" transform="translate(1395.3,236) rotate(16.15)"/>
<circle cx="1399.5" cy="221.5" r="3.8" fill="#C9534F"/>
<circle cx="1304.2" cy="158.4" r="14.8" fill="#F2D17C"/>
<path d="M1318.98,159.17 A14.8,14.8 0 1 1 1315.89,149.33" stroke="#3F4F66" stroke-width="2.2" fill="none"/>
<path d="M1318.02,153.1 L1316.96,145.64 L1315.7,149.09 L1312.37,150.23 Z" fill="#3F4F66"/>
<text x="1304.5" y="163.6" font-size="15" fill="#111" text-anchor="middle" >Dye</text>
<path d="M1331,123.2 L1331,144.6 M1337,123.2 C1337,132.1 1337,137.1 1339,144.6" stroke="#9DB9DF" stroke-width="1.6" fill="none"/>
<circle cx="1334" cy="119.6" r="6" fill="#4F68AE"/>
<line x1="1335.2" y1="147.5" x2="1335.2" y2="165.8" stroke="#3F4F66" stroke-width="1.8"/>
<path d="M1335.2,170 L1331.7,163 L1335.2,164.75 L1338.7,163 Z" fill="#3F4F66"/>
<line x1="1346" y1="156.4" x2="1358.9" y2="155.4" stroke="#111" stroke-width="3"/>
<rect x="-3.5" y="-5" width="7" height="10" rx="1.5" fill="#5AAE46" transform="translate(1358.9,155.4) rotate(90)"/>
<polygon points="1346.9,151.29 1348.31,154.17 1351.13,155.68 1348.84,157.91 1348.27,161.06 1345.44,159.57 1342.27,160 1342.82,156.85 1341.42,153.97 1344.59,153.51" fill="#CF5350" stroke="#CF5350" stroke-width="2.18" stroke-linejoin="round"/>
<path d="M1326.6,181.9 L1326.6,203.3 M1332.6,181.9 C1332.6,190.8 1332.6,195.8 1334.6,203.3" stroke="#9DB9DF" stroke-width="1.6" fill="none"/>
<circle cx="1329.6" cy="178.3" r="6" fill="#4F68AE"/>
<line x1="1333" y1="179" x2="1344" y2="184" stroke="#111" stroke-width="3"/>
<line x1="1345.5" y1="183.7" x2="1345.1" y2="199.2" stroke="#111" stroke-width="3"/>
<rect x="-3.5" y="-5" width="7" height="10" rx="1.5" fill="#5AAE46" transform="translate(1345.1,199.2) rotate(0)"/>
<polygon points="1346.4,178.59 1347.81,181.47 1350.63,182.98 1348.34,185.21 1347.77,188.36 1344.94,186.87 1341.77,187.3 1342.32,184.15 1340.92,181.27 1344.09,180.81" fill="#CF5350" stroke="#CF5350" stroke-width="2.18" stroke-linejoin="round"/>
<g transform="translate(1220.5,66.8) scale(1.0)"><circle cx="0" cy="4" r="27" fill="url(#glow)"/><path d="M-6,19 L-6,16 C-6,11 -12.5,7 -12.5,0 A12.5,12.5 0 1 1 12.5,0 C12.5,7 6,11 6,16 L6,19 Z" fill="#5DB5DF"/><path d="M-8.5,-5 A9,9 0 0 1 -4,-9.5" stroke="#A9DDF2" stroke-width="1.2" fill="none"/><path d="M-4,4 L4,4 M-2.5,4 L-2.5,15 M2.5,4 L2.5,15" stroke="#B5E2F4" stroke-width="0.8" fill="none"/><rect x="-6" y="16.5" width="12" height="3" fill="#3E9CCB"/><path d="M-5.5,19.5 L5.5,19.5 L5.5,29 Q5.5,33 0,33 Q-5.5,33 -5.5,29 Z" fill="#BDBDBD"/><path d="M-5.5,22 L5.5,22 M-5.5,25 L5.5,25 M-5.5,28 L5.5,28" stroke="#8E8E8E" stroke-width="0.9"/></g>
<path d="M1206.02,81.43 L1205.75,81.61 L1205.51,81.85 L1205.3,82.14 L1205.12,82.48 L1204.97,82.87 L1204.86,83.3 L1204.76,83.78 L1204.7,84.29 L1204.66,84.83 L1204.64,85.41 L1204.64,86 L1204.66,86.61 L1204.7,87.23 L1204.75,87.85 L1204.8,88.47 L1204.86,89.08 L1204.92,89.68 L1204.98,90.26 L1205.03,90.81 L1205.08,91.33 L1205.11,91.82 L1205.13,92.27 L1205.13,92.67 L1205.11,93.02 L1205.06,93.33 L1205,93.58 L1204.9,93.78 L1204.78,93.92 L1204.63,94.01 L1204.45,94.04 L1204.23,94.02 L1203.99,93.94 L1203.72,93.82 L1203.41,93.65 L1203.08,93.44 L1202.72,93.18 L1202.33,92.89 L1201.92,92.58 L1201.49,92.23 L1201.04,91.87 L1200.58,91.49 L1200.1,91.11 L1199.61,90.73 L1199.11,90.35 L1198.61,89.98 L1198.11,89.63 L1197.62,89.3 L1197.13,89 L1196.65,88.73 L1196.18,88.5 L1195.73,88.31 L1195.3,88.16 L1194.89,88.07 L1194.5,88.02 L1194.14,88.03 L1193.81,88.1 L1193.5,88.22 L1193.23,88.39 L1192.98,88.62 L1192.77,88.9 L1192.59,89.24 L1192.43,89.62 L1192.31,90.05 L1192.21,90.52 L1192.15,91.02 L1192.1,91.57 L1192.08,92.13 L1192.08,92.72 L1192.1,93.33 L1192.13,93.95 L1192.18,94.57 L1192.23,95.19 L1192.29,95.81 L1192.35,96.41 L1192.41,96.99 L1192.46,97.54 L1192.51,98.07 L1192.54,98.56 L1192.56,99.01 L1192.57,99.42 L1192.55,99.79 L1192.51,100.1 L1192.45,100.36 L1192.36,100.56 L1192.24,100.71 L1192.09,100.81 L1191.91,100.85 L1191.71,100.83 L1191.47,100.77 L1191.2,100.65 L1190.9,100.49 L1190.57,100.28 L1190.21,100.03 L1189.83,99.75 L1189.42,99.43 L1189,99.09 L1188.55,98.73 L1188.08,98.36 L1187.61,97.98 L1187.12,97.59 L1186.62,97.21 L1186.12,96.84 L1185.62,96.49 L1185.13,96.15 L1184.64,95.85 L1184.15,95.57 L1183.69,95.34 L1183.23,95.14 L1182.8,94.99 L1182.38,94.89 L1181.99,94.84 L1181.63,94.84 L1181.29,94.9 L1180.98,95.01 L1180.7,95.17 L1180.45,95.4 L1180.24,95.67 L1180.05,96 L1179.89,96.37 L1179.76,96.79 L1179.67,97.26 L1179.59,97.76 L1179.55,98.3 L1179.52,98.86 L1179.52,99.45 L1179.54,100.05 L1179.57,100.67 L1179.61,101.29 L1179.66,101.91 L1179.72,102.53 L1179.78,103.13 L1179.84,103.72 L1179.89,104.28 L1179.94,104.81 L1179.98,105.3 L1180,105.76 L1180.01,106.18 L1179.99,106.55 L1179.96,106.87 L1179.9,107.13 L1179.81,107.35 L1179.7,107.5 L1179.55,107.61 L1179.38,107.66 L1179.18,107.65 L1178.94,107.59 L1178.68,107.48 L1178.38,107.32 L1178.06,107.12 L1177.7,106.88 L1177.33,106.6 L1176.92,106.29 L1176.5,105.95 L1176.05,105.6 L1175.59,105.22 L1175.11,104.84 L1174.63,104.46 L1174.13,104.08 L1173.63,103.7 L1173.13,103.35" stroke="#2F7EC7" stroke-width="3.2" fill="none" stroke-linecap="round" stroke-linejoin="round"/>
<path d="M1173.13,103.35 L1174.91,104.21 L1167,108.5 L1172.55,99.86 L1175.38,105.08 Z" fill="#2F7EC7" stroke="#2F7EC7" stroke-width="1"/>
<path d="M1167,108.5 L1172.55,99.86 L1177.27,108.56 Z" fill="#2F7EC7"/>
<path d="M1235.37,81.37 L1235.51,81.48 L1235.62,81.64 L1235.71,81.86 L1235.78,82.13 L1235.82,82.46 L1235.83,82.84 L1235.84,83.26 L1235.82,83.72 L1235.8,84.22 L1235.76,84.76 L1235.72,85.33 L1235.67,85.91 L1235.62,86.52 L1235.58,87.14 L1235.55,87.76 L1235.52,88.38 L1235.5,89 L1235.51,89.6 L1235.53,90.19 L1235.57,90.75 L1235.63,91.28 L1235.72,91.77 L1235.83,92.23 L1235.97,92.64 L1236.14,93 L1236.34,93.32 L1236.57,93.58 L1236.83,93.79 L1237.11,93.94 L1237.43,94.04 L1237.77,94.08 L1238.14,94.06 L1238.53,93.99 L1238.94,93.87 L1239.38,93.71 L1239.83,93.49 L1240.29,93.24 L1240.77,92.95 L1241.25,92.63 L1241.74,92.28 L1242.23,91.91 L1242.72,91.53 L1243.21,91.13 L1243.69,90.74 L1244.15,90.35 L1244.61,89.96 L1245.04,89.59 L1245.46,89.25 L1245.85,88.93 L1246.23,88.64 L1246.57,88.39 L1246.89,88.18 L1247.18,88.02 L1247.45,87.9 L1247.68,87.83 L1247.88,87.82 L1248.06,87.87 L1248.2,87.97 L1248.32,88.12 L1248.41,88.33 L1248.48,88.6 L1248.52,88.92 L1248.54,89.29 L1248.55,89.7 L1248.54,90.16 L1248.51,90.66 L1248.48,91.19 L1248.43,91.75 L1248.39,92.34 L1248.34,92.94 L1248.3,93.56 L1248.26,94.18 L1248.23,94.8 L1248.22,95.42 L1248.22,96.02 L1248.23,96.61 L1248.27,97.18 L1248.33,97.71 L1248.41,98.21 L1248.52,98.67 L1248.66,99.09 L1248.82,99.46 L1249.02,99.78 L1249.24,100.05 L1249.5,100.27 L1249.78,100.43 L1250.09,100.53 L1250.43,100.58 L1250.8,100.57 L1251.18,100.51 L1251.6,100.4 L1252.03,100.24 L1252.47,100.03 L1252.94,99.79 L1253.41,99.5 L1253.89,99.18 L1254.38,98.84 L1254.87,98.47 L1255.37,98.09 L1255.85,97.7 L1256.33,97.3 L1256.8,96.91 L1257.25,96.52 L1257.69,96.15 L1258.11,95.8 L1258.51,95.48 L1258.89,95.19 L1259.24,94.93 L1259.56,94.71 L1259.86,94.54 L1260.12,94.42 L1260.36,94.35 L1260.57,94.33 L1260.75,94.36 L1260.9,94.46 L1261.02,94.6 L1261.11,94.81 L1261.18,95.07 L1261.23,95.38 L1261.25,95.74 L1261.26,96.15 L1261.25,96.6 L1261.23,97.09 L1261.19,97.62 L1261.15,98.18 L1261.11,98.76 L1261.06,99.36 L1261.02,99.97 L1260.98,100.6 L1260.95,101.22 L1260.93,101.84 L1260.93,102.45 L1260.94,103.04 L1260.97,103.6 L1261.03,104.14 L1261.11,104.65 L1261.22,105.12 L1261.35,105.54 L1261.51,105.92 L1261.7,106.25 L1261.92,106.53 L1262.17,106.75 L1262.45,106.92 L1262.76,107.03 L1263.09,107.08 L1263.45,107.09 L1263.84,107.03 L1264.25,106.93 L1264.67,106.77 L1265.12,106.57 L1265.58,106.33 L1266.05,106.05 L1266.54,105.74 L1267.02,105.4 L1267.52,105.03 L1268.01,104.65 L1268.49,104.26 L1268.97,103.87 L1269.44,103.47 L1269.9,103.08" stroke="#2F7EC7" stroke-width="3.2" fill="none" stroke-linecap="round" stroke-linejoin="round"/>
<path d="M1269.9,103.08 L1266.99,103.4 L1275,107.5 L1264.73,107.81 L1267.44,102.52 Z" fill="#2F7EC7" stroke="#2F7EC7" stroke-width="1"/>
<path d="M1275,107.5 L1264.73,107.81 L1269.24,98.99 Z" fill="#2F7EC7"/>
<path d="M981.92,475.06 A403.5,403.5 0 0 1 1461.94,474.23" stroke="#B4CFEE" stroke-width="15" fill="none"/>
<path d="M981.92,475.06 A403.5,403.5 0 0 1 1461.94,474.23" stroke="#E1EDF9" stroke-width="7" fill="none"/>
<g fill="none" stroke-linecap="round"><path d="M1250.66,566.14 A74,74 0 0 1 1250.66,435.46" stroke="#A9B9D0" stroke-width="7"/><path d="M1236.03,568.76 A84,84 0 0 1 1236.03,432.84" stroke="#A9B9D0" stroke-width="7"/><path d="M1222.5,570.66 A94,94 0 0 1 1220.1,433.18" stroke="#A9B9D0" stroke-width="7"/><path d="M1196,468 C1186,462 1180,470 1172,466" stroke="#A9B9D0" stroke-width="7"/><path d="M1192,452 C1186,446 1190,440 1184,436" stroke="#A9B9D0" stroke-width="7"/><path d="M1190,540 C1182,544 1180,552 1186,558" stroke="#A9B9D0" stroke-width="7"/><path d="M1204,572 C1208,578 1210,580 1212,582" stroke="#A9B9D0" stroke-width="7"/><path d="M1250.66,566.14 A74,74 0 0 1 1250.66,435.46" stroke="#fff" stroke-width="3.8"/><path d="M1236.03,568.76 A84,84 0 0 1 1236.03,432.84" stroke="#fff" stroke-width="3.8"/><path d="M1222.5,570.66 A94,94 0 0 1 1220.1,433.18" stroke="#fff" stroke-width="3.8"/><path d="M1196,468 C1186,462 1180,470 1172,466" stroke="#fff" stroke-width="3.8"/><path d="M1192,452 C1186,446 1190,440 1184,436" stroke="#fff" stroke-width="3.8"/><path d="M1190,540 C1182,544 1180,552 1186,558" stroke="#fff" stroke-width="3.8"/><path d="M1204,572 C1208,578 1210,580 1212,582" stroke="#fff" stroke-width="3.8"/><circle cx="1163.3" cy="465.3" r="6" fill="#fff" stroke="#A9B9D0" stroke-width="2.2"/><circle cx="1175" cy="495" r="7" fill="none" stroke="#A9B9D0" stroke-width="2.2"/><circle cx="1212.5" cy="582.5" r="6" fill="#fff" stroke="#A9B9D0" stroke-width="2.2"/></g>
<circle cx="1285.4" cy="500.8" r="64" fill="#E6EBF0"/>
<path d="M1289.79,437.95 A63,63 0 0 1 1314.71,445.03 M1323.07,450.31 A63,63 0 0 1 1340.21,469.73 M1344.39,478.69 A63,63 0 0 1 1348.3,504.3 M1346.98,514.09 A63,63 0 0 1 1336.43,537.75 M1330.02,545.28 A63,63 0 0 1 1308.35,559.47 M1298.89,562.34 A63,63 0 0 1 1272.99,562.56 M1263.48,559.86 A63,63 0 0 1 1241.56,546.05 M1235.03,538.63 A63,63 0 0 1 1224.06,515.17 M1222.57,505.39 A63,63 0 0 1 1226.03,479.72 M1230.06,470.7 A63,63 0 0 1 1246.85,450.97 M1255.12,445.55 A63,63 0 0 1 1279.91,438.04" stroke="#ADC4DE" stroke-width="8" fill="none" stroke-linecap="round"/>
<path d="M1289.79,437.95 A63,63 0 0 1 1314.71,445.03 M1323.07,450.31 A63,63 0 0 1 1340.21,469.73 M1344.39,478.69 A63,63 0 0 1 1348.3,504.3 M1346.98,514.09 A63,63 0 0 1 1336.43,537.75 M1330.02,545.28 A63,63 0 0 1 1308.35,559.47 M1298.89,562.34 A63,63 0 0 1 1272.99,562.56 M1263.48,559.86 A63,63 0 0 1 1241.56,546.05 M1235.03,538.63 A63,63 0 0 1 1224.06,515.17 M1222.57,505.39 A63,63 0 0 1 1226.03,479.72 M1230.06,470.7 A63,63 0 0 1 1246.85,450.97 M1255.12,445.55 A63,63 0 0 1 1279.91,438.04" stroke="#E3EDF8" stroke-width="4.6" fill="none" stroke-linecap="round"/>
<path d="M1060,462 C1078,462 1087,475 1088,495 C1089,515 1092,525 1105,540 C1118,555 1124,572 1114,582 C1103,592 1088,588 1078,578 C1060,560 1048,545 1042,525 C1036,505 1034,490 1037,480 C1041,468 1050,462 1060,462 Z" fill="#E8EEF7" stroke="#CBD4E4" stroke-width="4"/>
<path d="M1042,478 L1056,474 M1086,482 L1072,486 M1041,500 L1055,497 M1087,505 L1073,506 M1044,520 L1058,518 M1090,528 L1078,530 M1052,540 L1064,536 M1104,545 L1092,549 M1062,556 L1074,552 M1114,562 L1100,565 M1078,574 L1088,568 M1105,584 L1098,574" stroke="#D3DBE8" stroke-width="3" stroke-linecap="round"/>
<path d="M1057.5,484.36 L1057.5,506.4 M1063.5,484.36 C1063.5,493.4 1064,498.6 1066,506.4" stroke="#F2B23A" stroke-width="1.8" fill="none"/>
<circle cx="1060.5" cy="480.4" r="6.6" fill="#E2672B"/>
<line x1="1062.8" y1="510" x2="1062.8" y2="529.8" stroke="#3F4F66" stroke-width="1.8"/>
<path d="M1062.8,534 L1059.3,527 L1062.8,528.75 L1066.3,527 Z" fill="#3F4F66"/>
<line x1="1073.2" y1="522" x2="1087.4" y2="521" stroke="#111" stroke-width="3"/>
<rect x="-3.5" y="-5" width="7" height="10" rx="1.5" fill="#5AAE46" transform="translate(1087.4,521) rotate(90)"/>
<polygon points="1074.1,516.89 1075.51,519.77 1078.33,521.28 1076.04,523.51 1075.47,526.66 1072.64,525.17 1069.47,525.6 1070.02,522.45 1068.62,519.57 1071.79,519.11" fill="#CF5350" stroke="#CF5350" stroke-width="2.18" stroke-linejoin="round"/>
<path d="M1056,545.96 L1056,568 M1062,545.96 C1062,555 1062.5,560.2 1064.5,568" stroke="#F2B23A" stroke-width="1.8" fill="none"/>
<circle cx="1059" cy="542" r="6.6" fill="#E2672B"/>
<line x1="1062" y1="543" x2="1073" y2="548" stroke="#111" stroke-width="3"/>
<line x1="1074" y1="548.5" x2="1074" y2="566.5" stroke="#111" stroke-width="3"/>
<rect x="-3.5" y="-5.5" width="7" height="11" rx="1.5" fill="#5AAE46" transform="translate(1074,566.5) rotate(0)"/>
<polygon points="1074.9,543.39 1076.31,546.27 1079.13,547.78 1076.84,550.01 1076.27,553.16 1073.44,551.67 1070.27,552.1 1070.82,548.95 1069.42,546.07 1072.59,545.61" fill="#CF5350" stroke="#CF5350" stroke-width="2.18" stroke-linejoin="round"/>
<circle cx="1036.3" cy="523" r="16.5" fill="#7DBB6B"/>
<path d="M1052.78,523.86 A16.5,16.5 0 1 1 1049.34,512.89" stroke="#3F4F66" stroke-width="2.4" fill="none"/>
<path d="M1051.7,517.09 L1050.52,508.78 L1049.12,512.62 L1045.42,513.88 Z" fill="#3F4F66"/>
<text x="1036.6" y="528.5" font-size="16" fill="#111" text-anchor="middle" >Dye</text>
<line x1="1114" y1="496.5" x2="1089.6" y2="496.5" stroke="#3F4F66" stroke-width="3"/>
<path d="M1083.6,496.5 L1093.6,491 L1091.1,496.5 L1093.6,502 Z" fill="#3F4F66"/>
<line x1="1162" y1="496.5" x2="1190.6" y2="496.5" stroke="#3F4F66" stroke-width="3"/>
<rect x="1115.7" y="483.6" width="44.5" height="30.6" rx="15.3" fill="#DEDAF3" stroke="#BAB2DD" stroke-width="4.8"/>
<text x="1137.7" y="505" font-size="19.5" fill="#111" text-anchor="middle" textLength="28.5" lengthAdjust="spacingAndGlyphs" >LTP</text>
<path d="M1189.5,420.9 L1189.5,443 M1195.5,420.9 C1195.5,430 1195.5,435.2 1197.5,443" stroke="#9DB6D9" stroke-width="1.6" fill="none"/>
<circle cx="1192.5" cy="417" r="6.5" fill="#5068AE"/>
<path d="M1202.4,427.1 L1202.4,449.2 M1208.4,427.1 C1208.4,436.2 1208.4,441.4 1210.4,449.2" stroke="#9DB6D9" stroke-width="1.6" fill="none"/>
<circle cx="1205.4" cy="423.2" r="6.5" fill="#5068AE"/>
<text x="1216.3" y="426" font-size="12" fill="#111">12</text>
<text x="1228" y="433" font-size="20" fill="#111" text-anchor="start" textLength="55.3" lengthAdjust="spacingAndGlyphs" >C-lipid</text>
<line x1="1205" y1="449" x2="1205" y2="477.2" stroke="#3F4F66" stroke-width="2"/>
<path d="M1205,482 L1201,474 L1205,476 L1209,474 Z" fill="#3F4F66"/>
<path d="M1210.4,470.6 L1229.2,470.6 L1219.8,454 Z" fill="#E8902F" stroke="#E8902F" stroke-width="1.5" stroke-linejoin="round"/>
<text x="1209.3" y="462.5" font-size="8" fill="#111">13</text>
<text x="1217.3" y="469.2" font-size="13" fill="#111">C</text>
<path d="M1201.4,492.32 L1201.4,516 M1207.4,492.32 C1207.4,502 1207.9,507.6 1209.9,516" stroke="#F2B23A" stroke-width="1.8" fill="none"/>
<circle cx="1204.4" cy="488" r="7.2" fill="#E2672B"/>
<path d="M1190.4,510.32 L1190.4,534 M1196.4,510.32 C1196.4,520 1196.9,525.6 1198.9,534" stroke="#F2B23A" stroke-width="1.8" fill="none"/>
<circle cx="1193.4" cy="506" r="7.2" fill="#E2672B"/>
<path d="M1209.4,509.32 L1209.4,533 M1215.4,509.32 C1215.4,519 1215.9,524.6 1217.9,533" stroke="#F2B23A" stroke-width="1.8" fill="none"/>
<circle cx="1212.4" cy="505" r="7.2" fill="#E2672B"/>
<text x="1180.2" y="541.5" font-size="12" fill="#111">13</text>
<text x="1191.7" y="548.75" font-size="20" fill="#111" text-anchor="start" textLength="56.3" lengthAdjust="spacingAndGlyphs" >C-lipid</text>
<line x1="1225" y1="497" x2="1244" y2="497" stroke="#3F4F66" stroke-width="3"/>
<path d="M1250,497 L1240,502.5 L1242.5,497 L1240,491.5 Z" fill="#3F4F66"/>
<line x1="1263.5" y1="501.9" x2="1278" y2="500.4" stroke="#111" stroke-width="3"/>
<rect x="-3.5" y="-5.5" width="7" height="11" rx="1.5" fill="#5AAE46" transform="translate(1278,500.4) rotate(90)"/>
<polygon points="1264.4,496.79 1265.81,499.67 1268.63,501.18 1266.34,503.41 1265.77,506.56 1262.94,505.07 1259.77,505.5 1260.32,502.35 1258.92,499.47 1262.09,499.01" fill="#CF5350" stroke="#CF5350" stroke-width="2.18" stroke-linejoin="round"/>
<line x1="1290.2" y1="492.5" x2="1290.2" y2="514.1" stroke="#3F4F66" stroke-width="2.8"/>
<path d="M1290.2,519.5 L1285.7,510.5 L1290.2,512.75 L1294.7,510.5 Z" fill="#3F4F66"/>
<path d="M1283.5,466.62 L1283.5,488.3 M1289.5,466.62 C1289.5,475.3 1290,480.5 1292,488.3" stroke="#F2B23A" stroke-width="1.8" fill="none"/>
<circle cx="1286.5" cy="462.3" r="7.2" fill="#E2672B"/>
<circle cx="1319.8" cy="504" r="15.2" fill="#F2D17C"/>
<path d="M1334.98,504.8 A15.2,15.2 0 1 1 1331.81,494.68" stroke="#3F4F66" stroke-width="2.4" fill="none"/>
<path d="M1333.99,498.55 L1332.94,490.86 L1331.61,494.43 L1328.16,495.64 Z" fill="#3F4F66"/>
<text x="1320.1" y="509.5" font-size="15.5" fill="#111" text-anchor="middle" >Dye</text>
<path d="M1282.4,532.32 L1282.4,554 M1288.4,532.32 C1288.4,541 1288.9,546.2 1290.9,554" stroke="#F2B23A" stroke-width="1.8" fill="none"/>
<circle cx="1285.4" cy="528" r="7.2" fill="#E2672B"/>
<line x1="1289" y1="529" x2="1299" y2="535" stroke="#111" stroke-width="3"/>
<line x1="1300" y1="535.2" x2="1300.4" y2="551.9" stroke="#111" stroke-width="3"/>
<rect x="-3.5" y="-5.5" width="7" height="11" rx="1.5" fill="#5AAE46" transform="translate(1300.4,551.9) rotate(0)"/>
<polygon points="1300.94,529.88 1302.41,532.87 1305.35,534.45 1302.96,536.77 1302.37,540.05 1299.42,538.5 1296.12,538.95 1296.68,535.67 1295.23,532.66 1298.53,532.19" fill="#CF5350" stroke="#CF5350" stroke-width="2.27" stroke-linejoin="round"/>
<g transform="translate(1445.9,371.6) scale(1.08)"><circle cx="0" cy="4" r="27" fill="url(#glow)"/><path d="M-6,19 L-6,16 C-6,11 -12.5,7 -12.5,0 A12.5,12.5 0 1 1 12.5,0 C12.5,7 6,11 6,16 L6,19 Z" fill="#5DB5DF"/><path d="M-8.5,-5 A9,9 0 0 1 -4,-9.5" stroke="#A9DDF2" stroke-width="1.2" fill="none"/><path d="M-4,4 L4,4 M-2.5,4 L-2.5,15 M2.5,4 L2.5,15" stroke="#B5E2F4" stroke-width="0.8" fill="none"/><rect x="-6" y="16.5" width="12" height="3" fill="#3E9CCB"/><path d="M-5.5,19.5 L5.5,19.5 L5.5,29 Q5.5,33 0,33 Q-5.5,33 -5.5,29 Z" fill="#BDBDBD"/><path d="M-5.5,22 L5.5,22 M-5.5,25 L5.5,25 M-5.5,28 L5.5,28" stroke="#8E8E8E" stroke-width="0.9"/></g>
<path d="M1424.06,385.13 L1423.82,385.31 L1423.61,385.55 L1423.43,385.84 L1423.29,386.19 L1423.18,386.59 L1423.11,387.04 L1423.06,387.53 L1423.04,388.07 L1423.05,388.63 L1423.08,389.22 L1423.13,389.83 L1423.2,390.45 L1423.27,391.08 L1423.36,391.7 L1423.45,392.32 L1423.54,392.92 L1423.63,393.5 L1423.71,394.05 L1423.78,394.56 L1423.83,395.04 L1423.87,395.47 L1423.88,395.85 L1423.87,396.17 L1423.83,396.44 L1423.76,396.65 L1423.66,396.8 L1423.52,396.89 L1423.35,396.92 L1423.15,396.88 L1422.91,396.8 L1422.64,396.65 L1422.33,396.46 L1421.99,396.22 L1421.63,395.94 L1421.23,395.62 L1420.82,395.27 L1420.38,394.9 L1419.92,394.51 L1419.44,394.11 L1418.96,393.71 L1418.47,393.31 L1417.97,392.92 L1417.48,392.56 L1416.99,392.21 L1416.51,391.9 L1416.05,391.62 L1415.6,391.38 L1415.16,391.2 L1414.76,391.06 L1414.38,390.98 L1414.02,390.95 L1413.7,390.99 L1413.41,391.09 L1413.16,391.24 L1412.94,391.46 L1412.75,391.73 L1412.6,392.06 L1412.48,392.45 L1412.39,392.88 L1412.33,393.36 L1412.31,393.88 L1412.31,394.43 L1412.33,395.02 L1412.37,395.62 L1412.43,396.24 L1412.51,396.86 L1412.59,397.49 L1412.68,398.11 L1412.78,398.72 L1412.87,399.31 L1412.95,399.87 L1413.02,400.39 L1413.08,400.88 L1413.12,401.33 L1413.14,401.72 L1413.14,402.06 L1413.11,402.35 L1413.05,402.58 L1412.96,402.75 L1412.83,402.86 L1412.67,402.91 L1412.48,402.9 L1412.25,402.83 L1411.99,402.7 L1411.7,402.53 L1411.37,402.3 L1411.02,402.03 L1410.63,401.73 L1410.22,401.39 L1409.79,401.03 L1409.33,400.64 L1408.86,400.24 L1408.38,399.84 L1407.89,399.44 L1407.4,399.05 L1406.91,398.67 L1406.42,398.32 L1405.93,397.99 L1405.46,397.7 L1405.01,397.45 L1404.57,397.25 L1404.15,397.1 L1403.76,397 L1403.4,396.95 L1403.07,396.97 L1402.77,397.04 L1402.5,397.18 L1402.27,397.38 L1402.07,397.63 L1401.9,397.94 L1401.77,398.31 L1401.68,398.73 L1401.61,399.19 L1401.57,399.7 L1401.57,400.24 L1401.58,400.82 L1401.62,401.41 L1401.67,402.03 L1401.75,402.65 L1401.83,403.28 L1401.92,403.9 L1402.01,404.51 L1402.1,405.11 L1402.18,405.68 L1402.26,406.22 L1402.33,406.72 L1402.37,407.18 L1402.4,407.59 L1402.4,407.95 L1402.38,408.26 L1402.33,408.51 L1402.25,408.7 L1402.14,408.83 L1401.99,408.9 L1401.81,408.9 L1401.6,408.85 L1401.35,408.75 L1401.06,408.59 L1400.75,408.38 L1400.4,408.13 L1400.02,407.83 L1399.62,407.5 L1399.2,407.15 L1398.75,406.77 L1398.28,406.37 L1397.81,405.97 L1397.32,405.57 L1396.83,405.17 L1396.33,404.79 L1395.84,404.43 L1395.35,404.09 L1394.88,403.79 L1394.42,403.53 L1393.97,403.31 L1393.55,403.14 L1393.15,403.02 L1392.78,402.96 L1392.44,402.95 L1392.13,403.01 L1391.85,403.12" stroke="#2F7EC7" stroke-width="3" fill="none" stroke-linecap="round" stroke-linejoin="round"/>
<path d="M1391.85,403.12 L1395.86,406.61 L1388,411 L1393.44,402.29 L1396.34,407.48 Z" fill="#2F7EC7" stroke="#2F7EC7" stroke-width="1"/>
<path d="M1388,411 L1393.44,402.29 L1398.27,410.93 Z" fill="#2F7EC7"/>
<path d="M1046.6,613.96 L1046.6,634 M1052.6,613.96 C1052.6,622 1053.1,626.8 1055.1,634" stroke="#F2B23A" stroke-width="1.8" fill="none"/>
<circle cx="1049.6" cy="610" r="6.6" fill="#E2672B"/>
<line x1="1053" y1="611" x2="1063" y2="616" stroke="#111" stroke-width="3"/>
<line x1="1064.6" y1="616.6" x2="1064.6" y2="634" stroke="#111" stroke-width="3"/>
<rect x="-3.5" y="-5" width="7" height="10" rx="1.5" fill="#5AAE46" transform="translate(1064.6,634) rotate(0)"/>
<polygon points="1065.54,611.28 1067.01,614.27 1069.95,615.85 1067.56,618.17 1066.97,621.45 1064.02,619.9 1060.72,620.35 1061.28,617.07 1059.83,614.06 1063.13,613.59" fill="#CF5350" stroke="#CF5350" stroke-width="2.27" stroke-linejoin="round"/>
<text x="1076" y="634" font-size="18.5" fill="#111" textLength="255" lengthAdjust="spacingAndGlyphs">= Photocatalytic labelling and </text>
<text x="1334.5" y="624" font-size="11.5" fill="#111">13</text>
<text x="1348.9" y="634" font-size="18.5" fill="#111" text-anchor="start" textLength="93.8" lengthAdjust="spacingAndGlyphs" >C labelling</text>
<text x="19.6" y="696.2" font-size="28.5" fill="#000" text-anchor="start" font-weight="bold" stroke="#000" stroke-width="0.7">b</text>
<rect x="135.5" y="906.3" width="28.6" height="35" fill="#FD6446" stroke="#222" stroke-width="1.1"/>
<rect x="177.8" y="925" width="28.6" height="16.3" fill="#FD6446" stroke="#222" stroke-width="1.1"/>
<rect x="262.4" y="766" width="28.6" height="175.3" fill="#FD6446" stroke="#222" stroke-width="1.1"/>
<rect x="304.7" y="875.3" width="28.6" height="66" fill="#FD6446" stroke="#222" stroke-width="1.1"/>
<rect x="347" y="900.6" width="28.6" height="40.7" fill="#FD6446" stroke="#222" stroke-width="1.1"/>
<path d="M79.6,727.7 L79.6,941.3 L477,941.3" stroke="#333" stroke-width="1.4" fill="none"/>
<text x="60" y="945.9" font-size="16.5" fill="#222" text-anchor="end" >0</text>
<text x="60" y="903.5" font-size="16.5" fill="#222" text-anchor="end" >1</text>
<text x="60" y="861" font-size="16.5" fill="#222" text-anchor="end" >2</text>
<text x="60" y="818.6" font-size="16.5" fill="#222" text-anchor="end" >3</text>
<text x="60" y="776.2" font-size="16.5" fill="#222" text-anchor="end" >4</text>
<text x="60" y="733.8" font-size="16.5" fill="#222" text-anchor="end" >5</text>
<path d="M68.6,939.9 L79.6,939.9 M68.6,897.5 L79.6,897.5 M68.6,855 L79.6,855 M68.6,812.6 L79.6,812.6 M68.6,770.2 L79.6,770.2 M68.6,727.8 L79.6,727.8 M107.5,941.3 L107.5,953.3 M149.8,941.3 L149.8,953.3 M192.1,941.3 L192.1,953.3 M234.4,941.3 L234.4,953.3 M276.7,941.3 L276.7,953.3 M319,941.3 L319,953.3 M361.3,941.3 L361.3,953.3 M403.6,941.3 L403.6,953.3 M445.9,941.3 L445.9,953.3" stroke="#333" stroke-width="1.4"/>
<path d="M149.8,902.6 L149.8,910.5 M142.8,902.6 L156.8,902.6 M142.8,910.5 L156.8,910.5" stroke="#222" stroke-width="1.2"/>
<path d="M192.1,922.8 L192.1,926.4 M185.1,922.8 L199.1,922.8 M185.1,926.4 L199.1,926.4" stroke="#222" stroke-width="1.2"/>
<path d="M276.7,742.3 L276.7,789.4 M269.7,742.3 L283.7,742.3 M269.7,789.4 L283.7,789.4" stroke="#222" stroke-width="1.2"/>
<path d="M319,848.4 L319,901.4 M312,848.4 L326,848.4 M312,901.4 L326,901.4" stroke="#222" stroke-width="1.2"/>
<path d="M361.3,896.5 L361.3,904.3 M354.3,896.5 L368.3,896.5 M354.3,904.3 L368.3,904.3" stroke="#222" stroke-width="1.2"/>
<g fill="#000"><ellipse cx="96.9" cy="939.4" rx="4.3" ry="3.6"/><ellipse cx="107.5" cy="939.4" rx="4.3" ry="3.6"/><ellipse cx="117.4" cy="939.4" rx="4.3" ry="3.6"/><ellipse cx="139.2" cy="902.6" rx="4.3" ry="3.6"/><ellipse cx="139.2" cy="910.7" rx="4.3" ry="3.6"/><ellipse cx="159.7" cy="906.5" rx="4.3" ry="3.6"/><ellipse cx="181.5" cy="927" rx="4.3" ry="3.6"/><ellipse cx="192" cy="922.6" rx="4.3" ry="3.6"/><ellipse cx="202.3" cy="925.2" rx="4.3" ry="3.6"/><ellipse cx="224.1" cy="939.4" rx="4.3" ry="3.6"/><ellipse cx="234.3" cy="939.1" rx="4.3" ry="3.6"/><ellipse cx="244.3" cy="939.4" rx="4.3" ry="3.6"/><ellipse cx="276.8" cy="748.5" rx="4.3" ry="3.6"/><ellipse cx="276.8" cy="756.6" rx="4.3" ry="3.6"/><ellipse cx="276.8" cy="792.8" rx="4.3" ry="3.6"/><ellipse cx="319.1" cy="844.5" rx="4.3" ry="3.6"/><ellipse cx="308.8" cy="893.3" rx="4.3" ry="3.6"/><ellipse cx="329.2" cy="888.3" rx="4.3" ry="3.6"/><ellipse cx="351.1" cy="896.2" rx="4.3" ry="3.6"/><ellipse cx="351.1" cy="903.8" rx="4.3" ry="3.6"/><ellipse cx="371.6" cy="902.4" rx="4.3" ry="3.6"/><ellipse cx="393.7" cy="940" rx="4.3" ry="3.6"/><ellipse cx="403.6" cy="940" rx="4.3" ry="3.6"/><ellipse cx="413.9" cy="940" rx="4.3" ry="3.6"/><ellipse cx="436" cy="940" rx="4.3" ry="3.6"/><ellipse cx="445.9" cy="939.5" rx="4.3" ry="3.6"/><ellipse cx="456" cy="940" rx="4.3" ry="3.6"/></g>
<text x="249.4" y="711" font-size="17.5" fill="#111" text-anchor="start" textLength="55.2" lengthAdjust="spacingAndGlyphs" >Rh 123</text>
<text x="0" y="0" font-size="17.8" fill="#111" text-anchor="end" textLength="81.1" lengthAdjust="spacingAndGlyphs" transform="translate(119,970.8) rotate(-45)">LPC(16:0)</text>
<text x="0" y="0" font-size="17.8" fill="#111" text-anchor="end" textLength="80.1" lengthAdjust="spacingAndGlyphs" transform="translate(161.3,970.8) rotate(-45)">LPE(18:0)</text>
<text x="0" y="0" font-size="17.8" fill="#111" text-anchor="end" textLength="74.5" lengthAdjust="spacingAndGlyphs" transform="translate(203.6,970.8) rotate(-45)">LPS(18:1)</text>
<text x="0" y="0" font-size="17.8" fill="#111" text-anchor="end" textLength="106.9" lengthAdjust="spacingAndGlyphs" transform="translate(245.9,970.8) rotate(-45)">PC(18:1/18:1)</text>
<text x="0" y="0" font-size="17.8" fill="#111" text-anchor="end" textLength="106.0" lengthAdjust="spacingAndGlyphs" transform="translate(288.2,970.8) rotate(-45)">PE(18:1/18:1)</text>
<text x="0" y="0" font-size="17.8" fill="#111" text-anchor="end" textLength="106.5" lengthAdjust="spacingAndGlyphs" transform="translate(330.5,970.8) rotate(-45)">PS(18:1/18:1)</text>
<text x="0" y="0" font-size="17.8" fill="#111" text-anchor="end" textLength="88.1" lengthAdjust="spacingAndGlyphs" transform="translate(372.8,970.8) rotate(-45)">Sph(d18:1)</text>
<text x="0" y="0" font-size="17.8" fill="#111" text-anchor="end" textLength="122.7" lengthAdjust="spacingAndGlyphs" transform="translate(415.1,970.8) rotate(-45)">SM(d18:1/17:0)</text>
<text x="0" y="0" font-size="17.8" fill="#111" text-anchor="end" textLength="99.0" lengthAdjust="spacingAndGlyphs" transform="translate(457.4,970.8) rotate(-45)">Cholesterol</text>
<text x="0" y="0" font-size="18" fill="#111" text-anchor="middle" transform="translate(14.2,835.5) rotate(-90)" textLength="194" lengthAdjust="spacingAndGlyphs">Relative intensity of PL</text>
<text x="0" y="0" font-size="18" fill="#111" text-anchor="middle" transform="translate(38,837) rotate(-90)" textLength="100" lengthAdjust="spacingAndGlyphs">lipids (×10<tspan font-size="11" dy="-7">7</tspan><tspan dy="7">)</tspan></text>
<path d="M174.98,766.21 L169.78,766.41 M174.98,768.79 L169.78,768.59 M174.79,771.22 L169.63,770.64 M174.41,773.76 L169.3,772.79 M173.87,776.14 L168.84,774.8 M173.11,778.6 L168.2,776.87 M172.22,780.87 L167.45,778.79 M171.1,783.18 L166.51,780.75 M169.88,785.29 L165.48,782.53 M168.43,787.42 L164.25,784.33 M166.91,789.33 L162.97,785.94 M165.16,791.21 L161.49,787.53 M163.38,792.87 L159.98,788.93 M161.37,794.47 L158.28,790.29 M159.35,795.85 L156.58,791.45 M157.12,797.13 L154.7,792.53 M154.93,798.19 L152.84,793.43 M152.53,799.13 L150.82,794.22 M150.2,799.85 L148.85,794.83 M147.7,800.42 L146.73,795.31 M145.28,800.79 L144.7,795.62 M142.72,800.98 L142.53,795.78 M140.28,800.98 L140.47,795.78 M137.72,800.79 L138.3,795.62 M135.3,800.42 L136.27,795.31 M132.8,799.85 L134.15,794.83 M130.47,799.13 L132.18,794.22 M128.07,798.19 L130.16,793.43 M125.88,797.13 L128.3,792.53 M123.65,795.85 L126.42,791.45 M121.63,794.47 L124.72,790.29 M119.62,792.87 L123.02,788.93 M117.84,791.21 L121.51,787.53 M116.09,789.33 L120.03,785.94 M114.57,787.42 L118.75,784.33 M113.12,785.29 L117.52,782.53 M111.9,783.18 L116.49,780.75 M110.78,780.87 L115.55,778.79 M109.89,778.6 L114.8,776.87 M109.13,776.14 L114.16,774.8 M108.59,773.76 L113.7,772.79 M108.21,771.22 L113.37,770.64 M108.02,768.79 L113.22,768.59 M108.02,766.21 L113.22,766.41 M108.21,763.78 L113.37,764.36 M108.59,761.24 L113.7,762.21 M109.13,758.86 L114.16,760.2 M109.89,756.4 L114.8,758.13 M110.78,754.13 L115.55,756.21 M111.9,751.82 L116.49,754.25 M113.12,749.71 L117.52,752.47 M114.57,747.58 L118.75,750.67 M116.09,745.67 L120.03,749.06 M117.84,743.79 L121.51,747.47 M119.62,742.13 L123.02,746.07 M121.63,740.53 L124.72,744.71 M123.65,739.15 L126.42,743.55 M125.88,737.87 L128.3,742.47 M128.07,736.81 L130.16,741.57 M130.47,735.87 L132.18,740.78 M132.8,735.15 L134.15,740.17 M135.3,734.58 L136.27,739.69 M137.72,734.21 L138.3,739.38 M140.28,734.02 L140.47,739.22 M142.72,734.02 L142.53,739.22 M145.28,734.21 L144.7,739.38 M147.7,734.58 L146.73,739.69 M150.2,735.15 L148.85,740.17 M152.53,735.87 L150.82,740.78 M154.93,736.81 L152.84,741.57 M157.12,737.87 L154.7,742.47 M159.35,739.15 L156.58,743.55 M161.37,740.53 L158.28,744.71 M163.38,742.13 L159.98,746.07 M165.16,743.79 L161.49,747.47 M166.91,745.67 L162.97,749.06 M168.43,747.58 L164.25,750.67 M169.88,749.71 L165.48,752.47 M171.1,751.82 L166.51,754.25 M172.22,754.13 L167.45,756.21 M173.11,756.4 L168.2,758.13 M173.87,758.86 L168.84,760.2 M174.41,761.24 L169.3,762.21 M174.79,763.78 L169.63,764.36 M163.96,768.76 L169.16,769.05 M163.74,770.94 L168.87,771.74 M163.21,773.4 L168.23,774.76 M162.53,775.49 L167.39,777.34 M161.51,777.78 L166.14,780.16 M160.41,779.69 L164.78,782.51 M158.94,781.72 L162.97,785.01 M157.47,783.35 L161.16,787.02 M155.6,785.04 L158.86,789.09 M153.82,786.33 L156.67,790.68 M151.64,787.58 L153.99,792.22 M149.64,788.48 L151.52,793.33 M147.25,789.25 L148.58,794.28 M145.1,789.71 L145.93,794.84 M142.6,789.97 L142.85,795.17 M140.4,789.97 L140.15,795.17 M137.9,789.71 L137.07,794.84 M135.75,789.25 L134.42,794.28 M133.36,788.48 L131.48,793.33 M131.36,787.58 L129.01,792.22 M129.18,786.33 L126.33,790.68 M127.4,785.04 L124.14,789.09 M125.53,783.35 L121.84,787.02 M124.06,781.72 L120.03,785.01 M122.59,779.69 L118.22,782.51 M121.49,777.78 L116.86,780.16 M120.47,775.49 L115.61,777.34 M119.79,773.4 L114.77,774.76 M119.26,770.94 L114.13,771.74 M119.04,768.76 L113.84,769.05 M119.04,766.24 L113.84,765.95 M119.26,764.06 L114.13,763.26 M119.79,761.6 L114.77,760.24 M120.47,759.51 L115.61,757.66 M121.49,757.22 L116.86,754.84 M122.59,755.31 L118.22,752.49 M124.06,753.28 L120.03,749.99 M125.53,751.65 L121.84,747.98 M127.4,749.96 L124.14,745.91 M129.18,748.67 L126.33,744.32 M131.36,747.42 L129.01,742.78 M133.36,746.52 L131.48,741.67 M135.75,745.75 L134.42,740.72 M137.9,745.29 L137.07,740.16 M140.4,745.03 L140.15,739.83 M142.6,745.03 L142.85,739.83 M145.1,745.29 L145.93,740.16 M147.25,745.75 L148.58,740.72 M149.64,746.52 L151.52,741.67 M151.64,747.42 L153.99,742.78 M153.82,748.67 L156.67,744.32 M155.6,749.96 L158.86,745.91 M157.47,751.65 L161.16,747.98 M158.94,753.28 L162.97,749.99 M160.41,755.31 L164.78,752.49 M161.51,757.22 L166.14,754.84 M162.53,759.51 L167.39,757.66 M163.21,761.6 L168.23,760.24 M163.74,764.06 L168.87,763.26 M163.96,766.24 L169.16,765.95" stroke="#231F20" stroke-width="1.2"/>
<circle cx="176.8" cy="767.5" r="2.4" fill="#4A9BD6"/><circle cx="176.56" cy="771.6" r="2.4" fill="#4A9BD6"/><circle cx="175.85" cy="775.64" r="2.4" fill="#4A9BD6"/><circle cx="174.67" cy="779.57" r="2.4" fill="#4A9BD6"/><circle cx="173.05" cy="783.34" r="2.4" fill="#3DB05A"/><circle cx="170.99" cy="786.9" r="2.4" fill="#4A9BD6"/><circle cx="168.54" cy="790.19" r="2.4" fill="#4A9BD6"/><circle cx="165.72" cy="793.18" r="2.4" fill="#4A9BD6"/><circle cx="162.58" cy="795.81" r="2.4" fill="#4A9BD6"/><circle cx="159.15" cy="798.07" r="2.4" fill="#4A9BD6"/><circle cx="155.48" cy="799.91" r="2.4" fill="#4A9BD6"/><circle cx="151.62" cy="801.32" r="2.4" fill="#4A9BD6"/><circle cx="147.63" cy="802.26" r="2.4" fill="#4A9BD6"/><circle cx="143.55" cy="802.74" r="2.4" fill="#3DB05A"/><circle cx="139.45" cy="802.74" r="2.4" fill="#4A9BD6"/><circle cx="135.37" cy="802.26" r="2.4" fill="#4A9BD6"/><circle cx="131.38" cy="801.32" r="2.4" fill="#4A9BD6"/><circle cx="127.52" cy="799.91" r="2.4" fill="#4A9BD6"/><circle cx="123.85" cy="798.07" r="2.4" fill="#4A9BD6"/><circle cx="120.42" cy="795.81" r="2.4" fill="#4A9BD6"/><circle cx="117.28" cy="793.18" r="2.4" fill="#4A9BD6"/><circle cx="114.46" cy="790.19" r="2.4" fill="#4A9BD6"/><circle cx="112.01" cy="786.9" r="2.4" fill="#3DB05A"/><circle cx="109.95" cy="783.34" r="2.4" fill="#4A9BD6"/><circle cx="108.33" cy="779.57" r="2.4" fill="#4A9BD6"/><circle cx="107.15" cy="775.64" r="2.4" fill="#4A9BD6"/><circle cx="106.44" cy="771.6" r="2.4" fill="#4A9BD6"/><circle cx="106.2" cy="767.5" r="2.4" fill="#4A9BD6"/><circle cx="106.44" cy="763.4" r="2.4" fill="#4A9BD6"/><circle cx="107.15" cy="759.36" r="2.4" fill="#4A9BD6"/><circle cx="108.33" cy="755.43" r="2.4" fill="#4A9BD6"/><circle cx="109.95" cy="751.66" r="2.4" fill="#4A9BD6"/><circle cx="112.01" cy="748.1" r="2.4" fill="#4A9BD6"/><circle cx="114.46" cy="744.81" r="2.4" fill="#3DB05A"/><circle cx="117.28" cy="741.82" r="2.4" fill="#4A9BD6"/><circle cx="120.42" cy="739.19" r="2.4" fill="#4A9BD6"/><circle cx="123.85" cy="736.93" r="2.4" fill="#4A9BD6"/><circle cx="127.52" cy="735.09" r="2.4" fill="#4A9BD6"/><circle cx="131.38" cy="733.68" r="2.4" fill="#4A9BD6"/><circle cx="135.37" cy="732.74" r="2.4" fill="#3DB05A"/><circle cx="139.45" cy="732.26" r="2.4" fill="#4A9BD6"/><circle cx="143.55" cy="732.26" r="2.4" fill="#4A9BD6"/><circle cx="147.63" cy="732.74" r="2.4" fill="#4A9BD6"/><circle cx="151.62" cy="733.68" r="2.4" fill="#4A9BD6"/><circle cx="155.48" cy="735.09" r="2.4" fill="#3DB05A"/><circle cx="159.15" cy="736.93" r="2.4" fill="#4A9BD6"/><circle cx="162.58" cy="739.19" r="2.4" fill="#4A9BD6"/><circle cx="165.72" cy="741.82" r="2.4" fill="#4A9BD6"/><circle cx="168.54" cy="744.81" r="2.4" fill="#4A9BD6"/><circle cx="170.99" cy="748.1" r="2.4" fill="#4A9BD6"/><circle cx="173.05" cy="751.66" r="2.4" fill="#4A9BD6"/><circle cx="174.67" cy="755.43" r="2.4" fill="#3DB05A"/><circle cx="175.85" cy="759.36" r="2.4" fill="#4A9BD6"/><circle cx="176.56" cy="763.4" r="2.4" fill="#4A9BD6"/><circle cx="162.38" cy="769.7" r="2.2" fill="#4A9BD6"/><circle cx="161.69" cy="773.29" r="2.2" fill="#4A9BD6"/><circle cx="160.37" cy="776.71" r="2.2" fill="#3DB05A"/><circle cx="158.49" cy="779.84" r="2.2" fill="#4A9BD6"/><circle cx="156.09" cy="782.61" r="2.2" fill="#4A9BD6"/><circle cx="153.24" cy="784.91" r="2.2" fill="#4A9BD6"/><circle cx="150.04" cy="786.68" r="2.2" fill="#4A9BD6"/><circle cx="146.58" cy="787.88" r="2.2" fill="#4A9BD6"/><circle cx="142.96" cy="788.45" r="2.2" fill="#4A9BD6"/><circle cx="139.3" cy="788.38" r="2.2" fill="#4A9BD6"/><circle cx="135.71" cy="787.69" r="2.2" fill="#3DB05A"/><circle cx="132.29" cy="786.37" r="2.2" fill="#4A9BD6"/><circle cx="129.16" cy="784.49" r="2.2" fill="#4A9BD6"/><circle cx="126.39" cy="782.09" r="2.2" fill="#4A9BD6"/><circle cx="124.09" cy="779.24" r="2.2" fill="#4A9BD6"/><circle cx="122.32" cy="776.04" r="2.2" fill="#4A9BD6"/><circle cx="121.12" cy="772.58" r="2.2" fill="#4A9BD6"/><circle cx="120.55" cy="768.96" r="2.2" fill="#3DB05A"/><circle cx="120.62" cy="765.3" r="2.2" fill="#4A9BD6"/><circle cx="121.31" cy="761.71" r="2.2" fill="#4A9BD6"/><circle cx="122.63" cy="758.29" r="2.2" fill="#4A9BD6"/><circle cx="124.51" cy="755.16" r="2.2" fill="#4A9BD6"/><circle cx="126.91" cy="752.39" r="2.2" fill="#4A9BD6"/><circle cx="129.76" cy="750.09" r="2.2" fill="#4A9BD6"/><circle cx="132.96" cy="748.32" r="2.2" fill="#3DB05A"/><circle cx="136.42" cy="747.12" r="2.2" fill="#4A9BD6"/><circle cx="140.04" cy="746.55" r="2.2" fill="#4A9BD6"/><circle cx="143.7" cy="746.62" r="2.2" fill="#4A9BD6"/><circle cx="147.29" cy="747.31" r="2.2" fill="#4A9BD6"/><circle cx="150.71" cy="748.63" r="2.2" fill="#4A9BD6"/><circle cx="153.84" cy="750.51" r="2.2" fill="#4A9BD6"/><circle cx="156.61" cy="752.91" r="2.2" fill="#3DB05A"/><circle cx="158.91" cy="755.76" r="2.2" fill="#4A9BD6"/><circle cx="160.68" cy="758.96" r="2.2" fill="#4A9BD6"/><circle cx="161.88" cy="762.42" r="2.2" fill="#4A9BD6"/><circle cx="162.45" cy="766.04" r="2.2" fill="#4A9BD6"/>
<text x="105.8" y="819.7" font-size="15.5" fill="#111" text-anchor="start" textLength="70" lengthAdjust="spacingAndGlyphs" >Liposome</text>
<rect x="629.87" y="895.3" width="28.6" height="46" fill="#2290FB" stroke="#222" stroke-width="1.1"/>
<rect x="672.24" y="901.1" width="28.6" height="40.2" fill="#2290FB" stroke="#222" stroke-width="1.1"/>
<rect x="714.61" y="923.9" width="28.6" height="17.4" fill="#2290FB" stroke="#222" stroke-width="1.1"/>
<rect x="756.98" y="790" width="28.6" height="151.3" fill="#2290FB" stroke="#222" stroke-width="1.1"/>
<rect x="799.35" y="786.6" width="28.6" height="154.7" fill="#2290FB" stroke="#222" stroke-width="1.1"/>
<rect x="841.72" y="824" width="28.6" height="117.3" fill="#2290FB" stroke="#222" stroke-width="1.1"/>
<rect x="884.09" y="938.5" width="28.6" height="2.8" fill="#2290FB" stroke="#222" stroke-width="1.1"/>
<rect x="926.46" y="938.8" width="28.6" height="2.5" fill="#2290FB" stroke="#222" stroke-width="1.1"/>
<path d="M573.7,728.3 L573.7,941.3 L971.3,941.3" stroke="#333" stroke-width="1.4" fill="none"/>
<text x="555" y="946.4" font-size="16.5" fill="#222" text-anchor="end" >0</text>
<text x="555" y="893.3" font-size="16.5" fill="#222" text-anchor="end" >2</text>
<text x="555" y="840.4" font-size="16.5" fill="#222" text-anchor="end" >4</text>
<text x="555" y="787.3" font-size="16.5" fill="#222" text-anchor="end" >6</text>
<text x="555" y="734.3" font-size="16.5" fill="#222" text-anchor="end" >8</text>
<path d="M562.7,940.4 L573.7,940.4 M562.7,887.3 L573.7,887.3 M562.7,834.4 L573.7,834.4 M562.7,781.3 L573.7,781.3 M562.7,728.3 L573.7,728.3 M601.8,941.3 L601.8,953.3 M644.17,941.3 L644.17,953.3 M686.54,941.3 L686.54,953.3 M728.91,941.3 L728.91,953.3 M771.28,941.3 L771.28,953.3 M813.65,941.3 L813.65,953.3 M856.02,941.3 L856.02,953.3 M898.39,941.3 L898.39,953.3 M940.76,941.3 L940.76,953.3" stroke="#333" stroke-width="1.4"/>
<path d="M644.2,890.7 L644.2,900.4 M637.2,890.7 L651.2,890.7 M637.2,900.4 L651.2,900.4" stroke="#222" stroke-width="1.2"/>
<path d="M686.6,897.6 L686.6,905.5 M679.6,897.6 L693.6,897.6 M679.6,905.5 L693.6,905.5" stroke="#222" stroke-width="1.2"/>
<path d="M729,922.5 L729,925 M722,922.5 L736,922.5 M722,925 L736,925" stroke="#222" stroke-width="1.2"/>
<path d="M813.6,784.5 L813.6,787.5 M806.6,784.5 L820.6,784.5 M806.6,787.5 L820.6,787.5" stroke="#222" stroke-width="1.2"/>
<path d="M855.8,807.1 L855.8,840.8 M848.8,807.1 L862.8,807.1 M848.8,840.8 L862.8,840.8" stroke="#222" stroke-width="1.2"/>
<g fill="#000"><ellipse cx="592.1" cy="939.2" rx="4.3" ry="3.6"/><ellipse cx="601.8" cy="939.2" rx="4.3" ry="3.6"/><ellipse cx="611.5" cy="939.2" rx="4.3" ry="3.6"/><ellipse cx="634.3" cy="891.2" rx="4.3" ry="3.6"/><ellipse cx="634.3" cy="900.9" rx="4.3" ry="3.6"/><ellipse cx="654.2" cy="895.3" rx="4.3" ry="3.6"/><ellipse cx="676.4" cy="897.8" rx="4.3" ry="3.6"/><ellipse cx="676.4" cy="906.5" rx="4.3" ry="3.6"/><ellipse cx="696.4" cy="900.9" rx="4.3" ry="3.6"/><ellipse cx="718.6" cy="927.2" rx="4.3" ry="3.6"/><ellipse cx="728.8" cy="923.1" rx="4.3" ry="3.6"/><ellipse cx="739" cy="923.1" rx="4.3" ry="3.6"/><ellipse cx="760.8" cy="789.7" rx="4.3" ry="3.6"/><ellipse cx="771.3" cy="789.2" rx="4.3" ry="3.6"/><ellipse cx="781.5" cy="789.7" rx="4.3" ry="3.6"/><ellipse cx="803.4" cy="786.6" rx="4.3" ry="3.6"/><ellipse cx="813.6" cy="782.8" rx="4.3" ry="3.6"/><ellipse cx="823.8" cy="786.6" rx="4.3" ry="3.6"/><ellipse cx="855.8" cy="809.4" rx="4.3" ry="3.6"/><ellipse cx="855.8" cy="820.9" rx="4.3" ry="3.6"/><ellipse cx="855.8" cy="842.1" rx="4.3" ry="3.6"/><ellipse cx="887.8" cy="938.7" rx="4.3" ry="3.6"/><ellipse cx="898" cy="937.4" rx="4.3" ry="3.6"/><ellipse cx="908.2" cy="938" rx="4.3" ry="3.6"/><ellipse cx="929.7" cy="940" rx="4.3" ry="3.6"/><ellipse cx="940.2" cy="936.7" rx="4.3" ry="3.6"/><ellipse cx="950.4" cy="938" rx="4.3" ry="3.6"/></g>
<text x="759.2" y="711" font-size="17.5" fill="#111" text-anchor="start" textLength="25.5" lengthAdjust="spacingAndGlyphs" >AO</text>
<text x="0" y="0" font-size="17.8" fill="#111" text-anchor="end" textLength="81.1" lengthAdjust="spacingAndGlyphs" transform="translate(613.3,970.8) rotate(-45)">LPC(16:0)</text>
<text x="0" y="0" font-size="17.8" fill="#111" text-anchor="end" textLength="80.1" lengthAdjust="spacingAndGlyphs" transform="translate(655.67,970.8) rotate(-45)">LPE(18:0)</text>
<text x="0" y="0" font-size="17.8" fill="#111" text-anchor="end" textLength="74.5" lengthAdjust="spacingAndGlyphs" transform="translate(698.04,970.8) rotate(-45)">LPS(18:1)</text>
<text x="0" y="0" font-size="17.8" fill="#111" text-anchor="end" textLength="106.9" lengthAdjust="spacingAndGlyphs" transform="translate(740.41,970.8) rotate(-45)">PC(18:1/18:1)</text>
<text x="0" y="0" font-size="17.8" fill="#111" text-anchor="end" textLength="106.0" lengthAdjust="spacingAndGlyphs" transform="translate(782.78,970.8) rotate(-45)">PE(18:1/18:1)</text>
<text x="0" y="0" font-size="17.8" fill="#111" text-anchor="end" textLength="106.5" lengthAdjust="spacingAndGlyphs" transform="translate(825.15,970.8) rotate(-45)">PS(18:1/18:1)</text>
<text x="0" y="0" font-size="17.8" fill="#111" text-anchor="end" textLength="88.1" lengthAdjust="spacingAndGlyphs" transform="translate(867.52,970.8) rotate(-45)">Sph(d18:1)</text>
<text x="0" y="0" font-size="17.8" fill="#111" text-anchor="end" textLength="122.7" lengthAdjust="spacingAndGlyphs" transform="translate(909.89,970.8) rotate(-45)">SM(d18:1/17:0)</text>
<text x="0" y="0" font-size="17.8" fill="#111" text-anchor="end" textLength="99.0" lengthAdjust="spacingAndGlyphs" transform="translate(952.26,970.8) rotate(-45)">Cholesterol</text>
<rect x="1146.6" y="913.7" width="28.6" height="27.6" fill="#FFA500" stroke="#222" stroke-width="1.1"/>
<rect x="1188.9" y="923.9" width="28.6" height="17.4" fill="#FFA500" stroke="#222" stroke-width="1.1"/>
<rect x="1231.2" y="932.8" width="28.6" height="8.5" fill="#FFA500" stroke="#222" stroke-width="1.1"/>
<rect x="1273.5" y="778.7" width="28.6" height="162.6" fill="#FFA500" stroke="#222" stroke-width="1.1"/>
<rect x="1315.8" y="862.5" width="28.6" height="78.8" fill="#FFA500" stroke="#222" stroke-width="1.1"/>
<rect x="1358.1" y="895" width="28.6" height="46.3" fill="#FFA500" stroke="#222" stroke-width="1.1"/>
<rect x="1400.4" y="938.6" width="28.6" height="2.7" fill="#FFA500" stroke="#222" stroke-width="1.1"/>
<rect x="1442.7" y="937.3" width="28.6" height="4" fill="#FFA500" stroke="#222" stroke-width="1.1"/>
<path d="M1090.5,727.6 L1090.5,941.3 L1488,941.3" stroke="#333" stroke-width="1.4" fill="none"/>
<text x="1071" y="945.2" font-size="16.5" fill="#222" text-anchor="end" >0</text>
<text x="1071" y="903" font-size="16.5" fill="#222" text-anchor="end" >0.2</text>
<text x="1071" y="860.9" font-size="16.5" fill="#222" text-anchor="end" >0.4</text>
<text x="1071" y="818.7" font-size="16.5" fill="#222" text-anchor="end" >0.6</text>
<text x="1071" y="776.3" font-size="16.5" fill="#222" text-anchor="end" >0.8</text>
<text x="1071" y="733.6" font-size="16.5" fill="#222" text-anchor="end" >1</text>
<path d="M1079.5,939.2 L1090.5,939.2 M1079.5,897 L1090.5,897 M1079.5,854.9 L1090.5,854.9 M1079.5,812.7 L1090.5,812.7 M1079.5,770.3 L1090.5,770.3 M1079.5,727.6 L1090.5,727.6 M1118.6,941.3 L1118.6,953.3 M1160.9,941.3 L1160.9,953.3 M1203.2,941.3 L1203.2,953.3 M1245.5,941.3 L1245.5,953.3 M1287.8,941.3 L1287.8,953.3 M1330.1,941.3 L1330.1,953.3 M1372.4,941.3 L1372.4,953.3 M1414.7,941.3 L1414.7,953.3 M1457,941.3 L1457,953.3" stroke="#333" stroke-width="1.4"/>
<path d="M1160.9,910.3 L1160.9,916.2 M1153.9,910.3 L1167.9,910.3 M1153.9,916.2 L1167.9,916.2" stroke="#222" stroke-width="1.2"/>
<path d="M1203.2,921.3 L1203.2,927.7 M1196.2,921.3 L1210.2,921.3 M1196.2,927.7 L1210.2,927.7" stroke="#222" stroke-width="1.2"/>
<path d="M1245.5,931 L1245.5,935 M1238.5,931 L1252.5,931 M1238.5,935 L1252.5,935" stroke="#222" stroke-width="1.2"/>
<path d="M1287.8,742.1 L1287.8,815.3 M1280.8,742.1 L1294.8,742.1 M1280.8,815.3 L1294.8,815.3" stroke="#222" stroke-width="1.2"/>
<path d="M1330.1,855.6 L1330.1,868.2 M1323.1,855.6 L1337.1,855.6 M1323.1,868.2 L1337.1,868.2" stroke="#222" stroke-width="1.2"/>
<path d="M1372.4,874 L1372.4,916.2 M1365.4,874 L1379.4,874 M1365.4,916.2 L1379.4,916.2" stroke="#222" stroke-width="1.2"/>
<g fill="#000"><ellipse cx="1107.9" cy="939.2" rx="4.3" ry="3.6"/><ellipse cx="1118.6" cy="939.2" rx="4.3" ry="3.6"/><ellipse cx="1128.4" cy="939.2" rx="4.3" ry="3.6"/><ellipse cx="1150.6" cy="911.9" rx="4.3" ry="3.6"/><ellipse cx="1160.8" cy="918.3" rx="4.3" ry="3.6"/><ellipse cx="1171" cy="911.9" rx="4.3" ry="3.6"/><ellipse cx="1192.8" cy="921.3" rx="4.3" ry="3.6"/><ellipse cx="1192.8" cy="928.2" rx="4.3" ry="3.6"/><ellipse cx="1213.2" cy="924.4" rx="4.3" ry="3.6"/><ellipse cx="1235" cy="936.7" rx="4.3" ry="3.6"/><ellipse cx="1245.2" cy="931.6" rx="4.3" ry="3.6"/><ellipse cx="1255.4" cy="931.6" rx="4.3" ry="3.6"/><ellipse cx="1287.5" cy="750.6" rx="4.3" ry="3.6"/><ellipse cx="1287.5" cy="765.4" rx="4.3" ry="3.6"/><ellipse cx="1287.5" cy="819.9" rx="4.3" ry="3.6"/><ellipse cx="1319.5" cy="858" rx="4.3" ry="3.6"/><ellipse cx="1339.9" cy="858.7" rx="4.3" ry="3.6"/><ellipse cx="1329.7" cy="869.5" rx="4.3" ry="3.6"/><ellipse cx="1372.4" cy="871.5" rx="4.3" ry="3.6"/><ellipse cx="1372.4" cy="903.4" rx="4.3" ry="3.6"/><ellipse cx="1372.4" cy="911.1" rx="4.3" ry="3.6"/><ellipse cx="1403.8" cy="938.5" rx="4.3" ry="3.6"/><ellipse cx="1414" cy="938" rx="4.3" ry="3.6"/><ellipse cx="1424.8" cy="938.5" rx="4.3" ry="3.6"/><ellipse cx="1446.5" cy="939.2" rx="4.3" ry="3.6"/><ellipse cx="1456.7" cy="936" rx="4.3" ry="3.6"/><ellipse cx="1467" cy="936.7" rx="4.3" ry="3.6"/></g>
<text x="1239.7" y="711" font-size="17.5" fill="#111" text-anchor="start" textLength="98.4" lengthAdjust="spacingAndGlyphs" >Fluorescein</text>
<text x="0" y="0" font-size="17.8" fill="#111" text-anchor="end" textLength="81.1" lengthAdjust="spacingAndGlyphs" transform="translate(1130.1,970.8) rotate(-45)">LPC(16:0)</text>
<text x="0" y="0" font-size="17.8" fill="#111" text-anchor="end" textLength="80.1" lengthAdjust="spacingAndGlyphs" transform="translate(1172.4,970.8) rotate(-45)">LPE(18:0)</text>
<text x="0" y="0" font-size="17.8" fill="#111" text-anchor="end" textLength="74.5" lengthAdjust="spacingAndGlyphs" transform="translate(1214.7,970.8) rotate(-45)">LPS(18:1)</text>
<text x="0" y="0" font-size="17.8" fill="#111" text-anchor="end" textLength="106.9" lengthAdjust="spacingAndGlyphs" transform="translate(1257,970.8) rotate(-45)">PC(18:1/18:1)</text>
<text x="0" y="0" font-size="17.8" fill="#111" text-anchor="end" textLength="106.0" lengthAdjust="spacingAndGlyphs" transform="translate(1299.3,970.8) rotate(-45)">PE(18:1/18:1)</text>
<text x="0" y="0" font-size="17.8" fill="#111" text-anchor="end" textLength="106.5" lengthAdjust="spacingAndGlyphs" transform="translate(1341.6,970.8) rotate(-45)">PS(18:1/18:1)</text>
<text x="0" y="0" font-size="17.8" fill="#111" text-anchor="end" textLength="88.1" lengthAdjust="spacingAndGlyphs" transform="translate(1383.9,970.8) rotate(-45)">Sph(d18:1)</text>
<text x="0" y="0" font-size="17.8" fill="#111" text-anchor="end" textLength="122.7" lengthAdjust="spacingAndGlyphs" transform="translate(1426.2,970.8) rotate(-45)">SM(d18:1/17:0)</text>
<text x="0" y="0" font-size="17.8" fill="#111" text-anchor="end" textLength="99.0" lengthAdjust="spacingAndGlyphs" transform="translate(1468.5,970.8) rotate(-45)">Cholesterol</text>
</svg></body></html>
